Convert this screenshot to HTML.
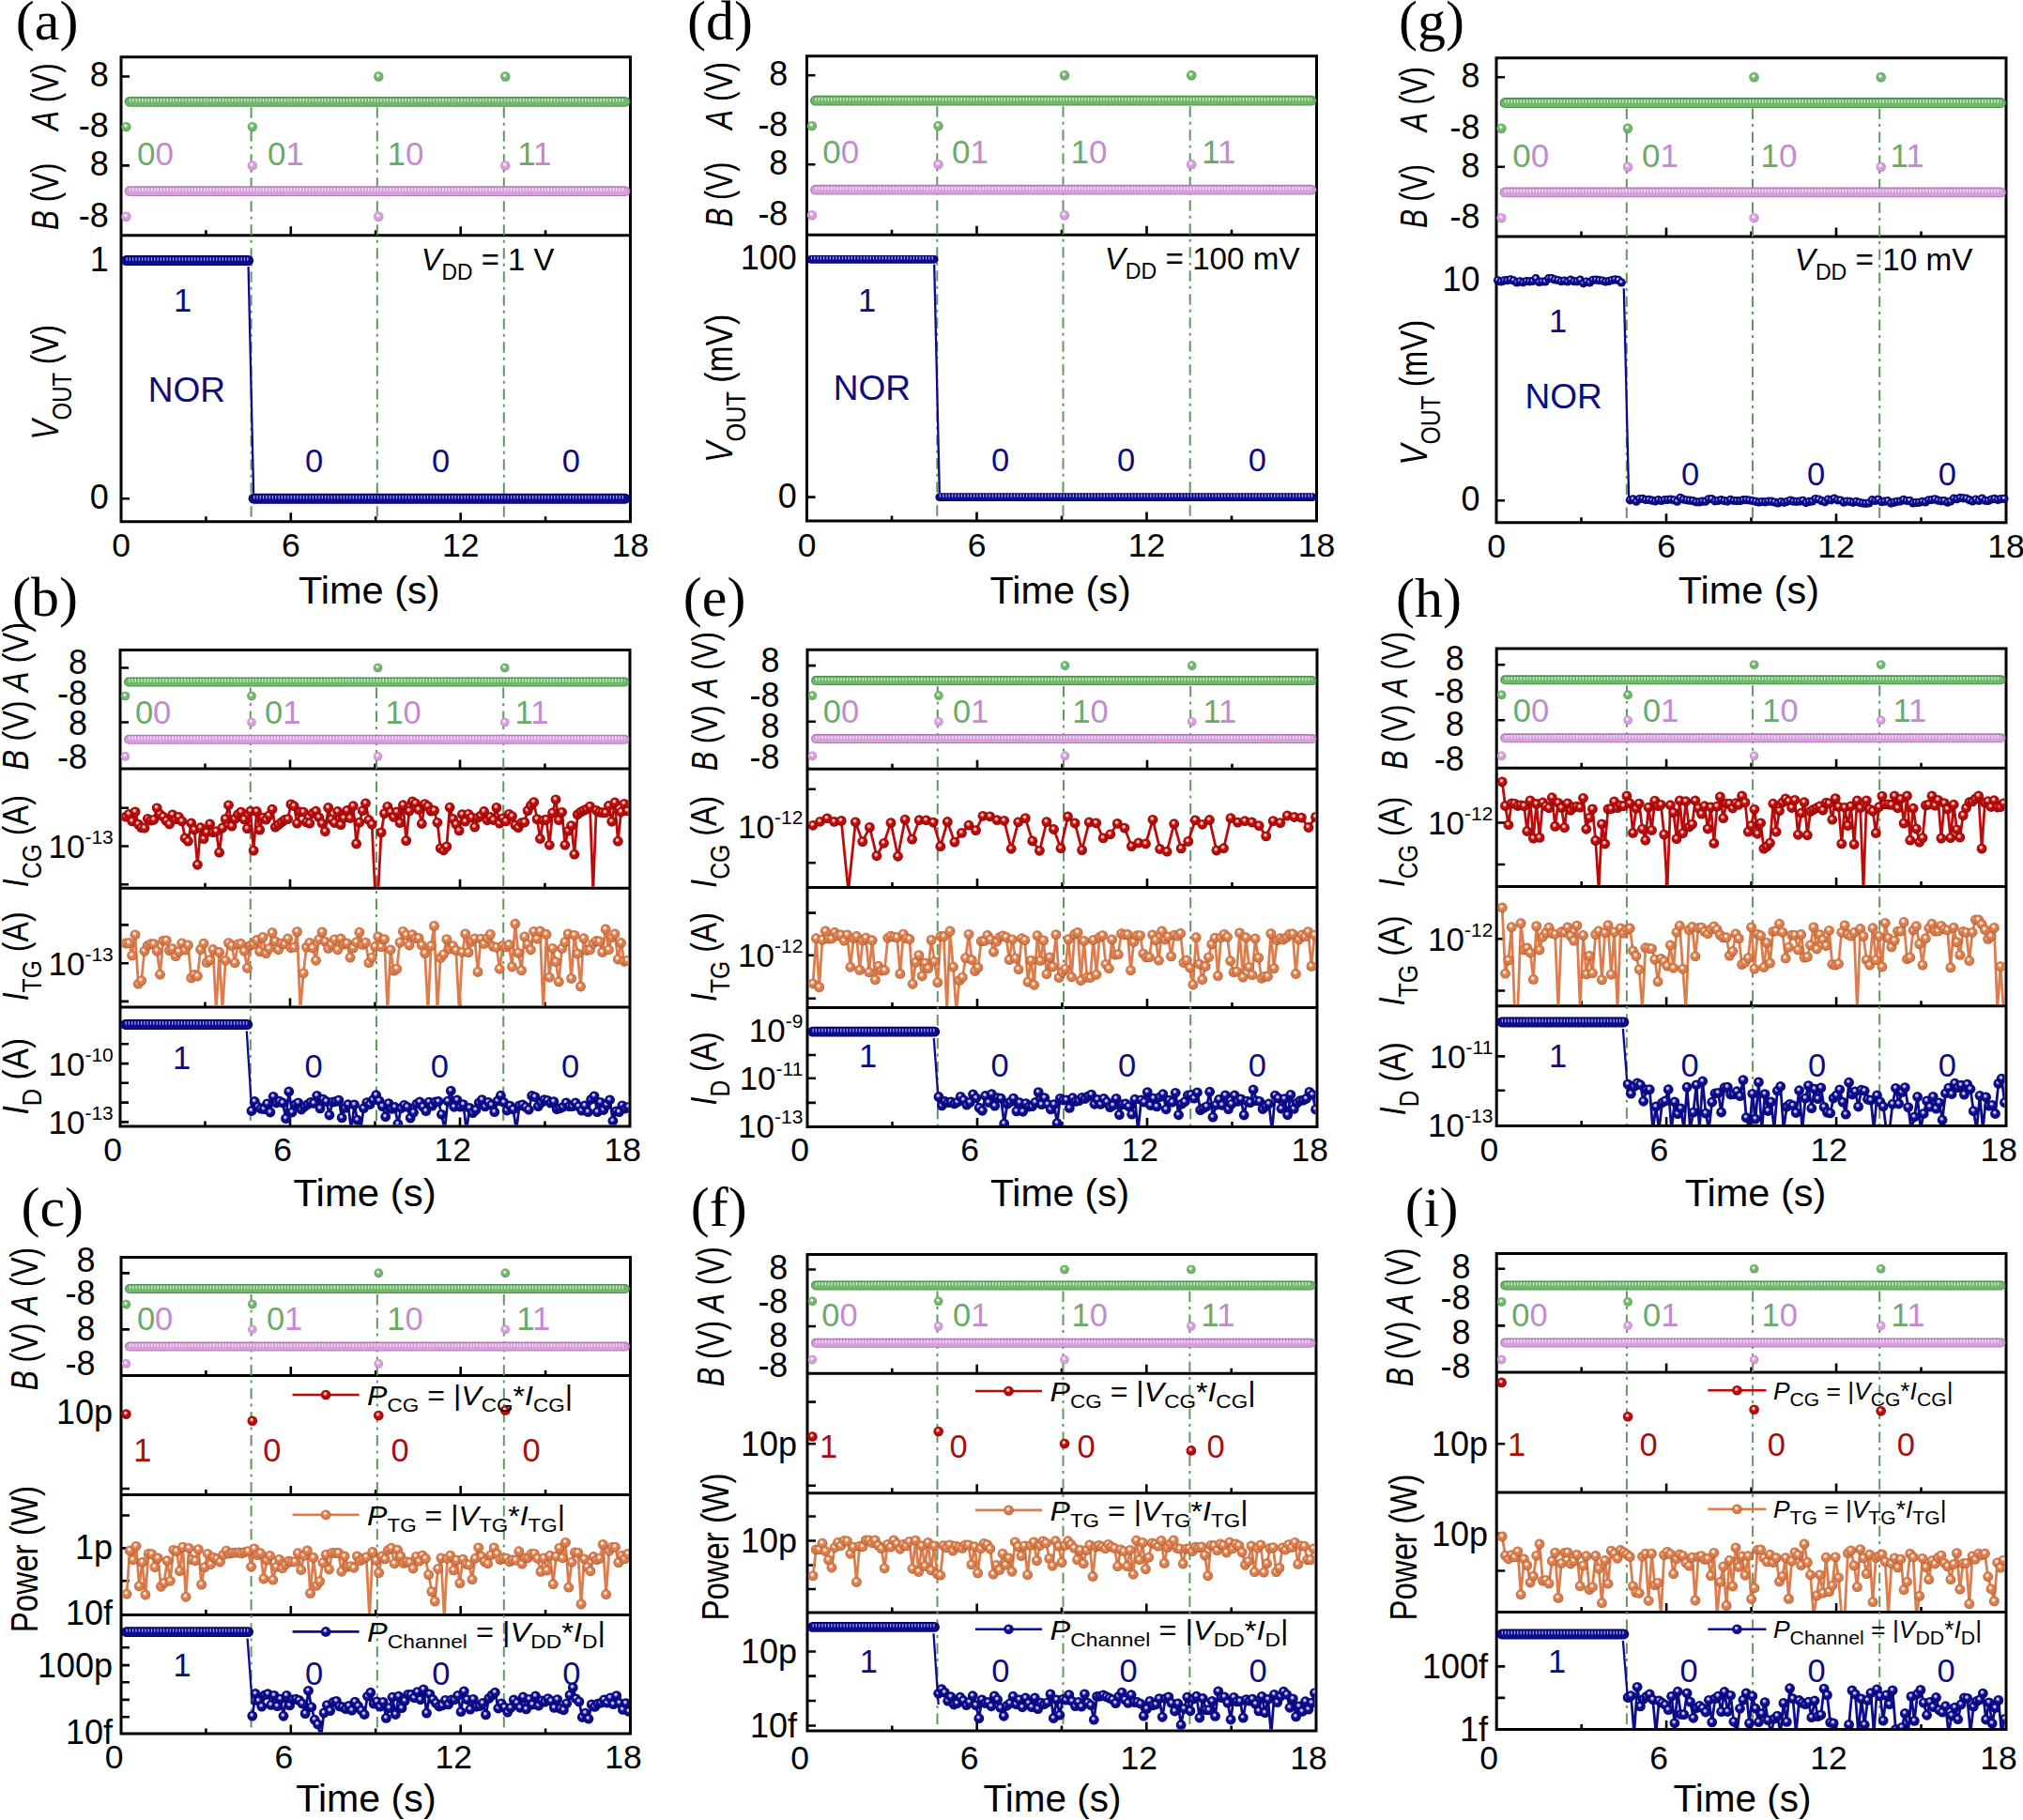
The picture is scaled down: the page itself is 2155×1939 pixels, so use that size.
<!DOCTYPE html>
<html><head><meta charset="utf-8"><title>NOR logic gate figure</title><style>
html,body{margin:0;padding:0;background:#fff;}
svg{display:block;font-family:'Liberation Sans', Arial, Helvetica, sans-serif;}
</style></head><body>
<svg width="2155" height="1939" viewBox="0 0 2155 1939">
<defs><radialGradient id="gG" cx="0.5" cy="0.5" r="0.5" fx="0.4" fy="0.34"><stop offset="0" stop-color="#e6ffe0"/><stop offset="0.18" stop-color="#e6ffe0"/><stop offset="0.45" stop-color="#72b86c"/><stop offset="0.8" stop-color="#72b86c"/><stop offset="1" stop-color="#4f9050"/></radialGradient><radialGradient id="gP" cx="0.5" cy="0.5" r="0.5" fx="0.4" fy="0.34"><stop offset="0" stop-color="#fff0ff"/><stop offset="0.18" stop-color="#fff0ff"/><stop offset="0.45" stop-color="#d79fdd"/><stop offset="0.8" stop-color="#d79fdd"/><stop offset="1" stop-color="#b07cb8"/></radialGradient><radialGradient id="gN" cx="0.5" cy="0.5" r="0.5" fx="0.4" fy="0.34"><stop offset="0" stop-color="#c8c8ff"/><stop offset="0.18" stop-color="#c8c8ff"/><stop offset="0.45" stop-color="#0c0c8c"/><stop offset="0.8" stop-color="#0c0c8c"/><stop offset="1" stop-color="#000060"/></radialGradient><radialGradient id="gR" cx="0.5" cy="0.5" r="0.5" fx="0.4" fy="0.34"><stop offset="0" stop-color="#ffd0c0"/><stop offset="0.18" stop-color="#ffd0c0"/><stop offset="0.45" stop-color="#bd0a0a"/><stop offset="0.8" stop-color="#bd0a0a"/><stop offset="1" stop-color="#6a0000"/></radialGradient><radialGradient id="gO" cx="0.5" cy="0.5" r="0.5" fx="0.4" fy="0.34"><stop offset="0" stop-color="#fff0e0"/><stop offset="0.18" stop-color="#fff0e0"/><stop offset="0.45" stop-color="#dd7d4c"/><stop offset="0.8" stop-color="#dd7d4c"/><stop offset="1" stop-color="#a0522a"/></radialGradient><marker id="mN" markerUnits="userSpaceOnUse" markerWidth="14" markerHeight="14" refX="7" refY="7" overflow="visible"><circle cx="7" cy="7" r="5.4" fill="url(#gN)"/></marker><marker id="mR" markerUnits="userSpaceOnUse" markerWidth="14" markerHeight="14" refX="7" refY="7" overflow="visible"><circle cx="7" cy="7" r="5.4" fill="url(#gR)"/></marker><marker id="mO" markerUnits="userSpaceOnUse" markerWidth="14" markerHeight="14" refX="7" refY="7" overflow="visible"><circle cx="7" cy="7" r="5.4" fill="url(#gO)"/></marker><marker id="mNs" markerUnits="userSpaceOnUse" markerWidth="14" markerHeight="14" refX="7" refY="7" overflow="visible"><circle cx="7" cy="7" r="4.6" fill="url(#gN)"/></marker><clipPath id="c1"><rect x="129.5" y="820.5" width="540" height="124.2"/></clipPath><clipPath id="c2"><rect x="129.5" y="947.7" width="540" height="123.9"/></clipPath><clipPath id="c3"><rect x="129.5" y="1074.6" width="540" height="123.9"/></clipPath><clipPath id="c4"><rect x="861.5" y="820.7" width="540" height="123.3"/></clipPath><clipPath id="c5"><rect x="861.5" y="947" width="540" height="125.1"/></clipPath><clipPath id="c6"><rect x="861.5" y="1075.1" width="540" height="124"/></clipPath><clipPath id="c7"><rect x="1595.7" y="819.8" width="539.8" height="123.2"/></clipPath><clipPath id="c8"><rect x="1595.7" y="946" width="539.8" height="124.3"/></clipPath><clipPath id="c9"><rect x="1595.7" y="1073.3" width="539.8" height="124.7"/></clipPath><clipPath id="c10"><rect x="130.5" y="1594" width="539.5" height="125"/></clipPath><clipPath id="c11"><rect x="130.5" y="1722" width="539.5" height="123.5"/></clipPath><clipPath id="c12"><rect x="861.5" y="1592.2" width="539" height="124.4"/></clipPath><clipPath id="c13"><rect x="861.5" y="1719.6" width="539" height="122.9"/></clipPath><clipPath id="c14"><rect x="1595.7" y="1591.5" width="539.8" height="124.5"/></clipPath><clipPath id="c15"><rect x="1595.7" y="1719" width="539.8" height="122"/></clipPath></defs>
<rect width="2155" height="1939" fill="#fff"/>
<path d="M129 60.8H671.5V555.8H129ZM129 250.8H671.5" fill="none" stroke="#000" stroke-width="3" stroke-linecap="square"/>
<path d="M219.4 250.8v-5.5M309.8 250.8v-9.5M400.2 250.8v-5.5M490.7 250.8v-9.5M581.1 250.8v-5.5M219.4 555.8v-5.5M309.8 555.8v-9.5M400.2 555.8v-5.5M490.7 555.8v-9.5M581.1 555.8v-5.5" stroke="#000" stroke-width="2.6"/>
<path d="M129 81.5h9M129 135.1h9M129 176.4h9M129 230.8h9M129 277.6h9M129 531.2h9" stroke="#000" stroke-width="2.6"/>
<path d="M267.6 114.3V554.3M401.8 114.3V554.3M536.8 114.3V554.3" stroke="#62985f" stroke-width="2" stroke-dasharray="11.5 5 3 5.5"/>
<path d="M138 108.3H666" stroke="#4f9050" stroke-width="10.8" stroke-linecap="round"/>
<path d="M138 108.6H666" stroke="#72b86c" stroke-width="8.200000000000001" stroke-linecap="round"/>
<path d="M138 106.7H666" stroke="#d2f7cb" stroke-width="3.6" stroke-dasharray="1.2 2.1"/>
<path d="M138 203.6H666" stroke="#b07cb8" stroke-width="10.8" stroke-linecap="round"/>
<path d="M138 203.9H666" stroke="#d79fdd" stroke-width="8.200000000000001" stroke-linecap="round"/>
<path d="M138 202H666" stroke="#fbe6fc" stroke-width="3.6" stroke-dasharray="1.2 2.1"/>
<circle cx="134.4" cy="135.1" r="5.2" fill="url(#gG)"/>
<circle cx="134.4" cy="230.8" r="5.2" fill="url(#gP)"/>
<circle cx="268.8" cy="135.1" r="5.2" fill="url(#gG)"/>
<circle cx="268.8" cy="176.4" r="5.2" fill="url(#gP)"/>
<circle cx="403.3" cy="81.5" r="5.2" fill="url(#gG)"/>
<circle cx="403.3" cy="230.8" r="5.2" fill="url(#gP)"/>
<circle cx="538.3" cy="81.5" r="5.2" fill="url(#gG)"/>
<circle cx="538.3" cy="176.4" r="5.2" fill="url(#gP)"/>
<text x="115.7" y="92.4" font-size="36" text-anchor="end">8</text>
<text x="115.7" y="146" font-size="36" text-anchor="end">-8</text>
<text x="115.7" y="187.3" font-size="36" text-anchor="end">8</text>
<text x="115.7" y="241.7" font-size="36" text-anchor="end">-8</text>
<text x="115.7" y="288.5" font-size="36" text-anchor="end">1</text>
<text x="115.7" y="542.1" font-size="36" text-anchor="end">0</text>
<text x="146.1" y="175.6" font-size="35"><tspan fill="#6aaa66">0</tspan><tspan fill="#c48ad0">0</tspan></text>
<text x="285" y="175.6" font-size="35"><tspan fill="#6aaa66">0</tspan><tspan fill="#c48ad0">1</tspan></text>
<text x="412.5" y="175.6" font-size="35"><tspan fill="#6aaa66">1</tspan><tspan fill="#c48ad0">0</tspan></text>
<text x="551.2" y="175.6" font-size="35"><tspan fill="#6aaa66">1</tspan><tspan fill="#c48ad0">1</tspan></text>
<path d="M134.5 277.6H264.6" stroke="#000060" stroke-width="11.0" stroke-linecap="round"/>
<path d="M134.5 277.9H264.6" stroke="#0c0c8c" stroke-width="8.4" stroke-linecap="round"/>
<path d="M134.5 276H264.6" stroke="#a8a8ff" stroke-width="3.6" stroke-dasharray="1.2 2.1"/>
<path d="M264.6 284.1L270.1 525.7" stroke="#0c0c8c" stroke-width="2.3" fill="none"/>
<path d="M270.1 531.2H666" stroke="#000060" stroke-width="11.0" stroke-linecap="round"/>
<path d="M270.1 531.5H666" stroke="#0c0c8c" stroke-width="8.4" stroke-linecap="round"/>
<path d="M270.1 529.6H666" stroke="#a8a8ff" stroke-width="3.6" stroke-dasharray="1.2 2.1"/>
<text x="129" y="593.3" font-size="35.5" text-anchor="middle">0</text>
<text x="309.8" y="593.3" font-size="35.5" text-anchor="middle">6</text>
<text x="490.7" y="593.3" font-size="35.5" text-anchor="middle">12</text>
<text x="671.5" y="593.3" font-size="35.5" text-anchor="middle">18</text>
<text x="318" y="643.1" font-size="40.5" textLength="150.6" lengthAdjust="spacingAndGlyphs">Time (s)</text>
<text x="16.8" y="41.5" font-size="60" font-family="'Liberation Serif', 'Times New Roman', Times, serif">(a)</text>
<text x="62.1" y="138.9" font-size="40" transform="rotate(-90 62.1 138.9)" textLength="71.6" lengthAdjust="spacingAndGlyphs"><tspan font-style="italic">A</tspan> (V)</text>
<text x="62.1" y="245" font-size="40" transform="rotate(-90 62.1 245)" textLength="71.5" lengthAdjust="spacingAndGlyphs"><tspan font-style="italic">B</tspan> (V)</text>
<text x="62.1" y="468.6" font-size="40" transform="rotate(-90 62.1 468.6)" textLength="122.8" lengthAdjust="spacingAndGlyphs"><tspan font-style="italic">V</tspan><tspan font-size="30" dy="14">OUT</tspan><tspan dy="-14"> (V)</tspan></text>
<text x="448.7" y="288.4" font-size="33" textLength="141.6" lengthAdjust="spacingAndGlyphs"><tspan font-style="italic">V</tspan><tspan font-size="23" dy="10">DD</tspan><tspan dy="-10"> = 1 V</tspan></text>
<text x="185" y="332.4" font-size="34.5" fill="#0c0c80">1</text>
<text x="157.8" y="427.5" font-size="37" fill="#0c0c80">NOR</text>
<text x="325" y="503.4" font-size="34.5" fill="#0c0c80">0</text>
<text x="459.9" y="503.4" font-size="34.5" fill="#0c0c80">0</text>
<text x="598.8" y="503.4" font-size="34.5" fill="#0c0c80">0</text>
<path d="M859.5 59.7H1402.5V555H859.5ZM859.5 250.3H1402.5" fill="none" stroke="#000" stroke-width="3" stroke-linecap="square"/>
<path d="M950 250.3v-5.5M1040.5 250.3v-9.5M1131 250.3v-5.5M1221.5 250.3v-9.5M1312 250.3v-5.5M950 555v-5.5M1040.5 555v-9.5M1131 555v-5.5M1221.5 555v-9.5M1312 555v-5.5" stroke="#000" stroke-width="2.6"/>
<path d="M859.5 80.3h9M859.5 134.1h9M859.5 175.2h9M859.5 229.2h9M859.5 276.4h9M859.5 529.6h9" stroke="#000" stroke-width="2.6"/>
<path d="M998.3 113.2V553.5M1132.5 113.2V553.5M1267.7 113.2V553.5" stroke="#62985f" stroke-width="2" stroke-dasharray="11.5 5 3 5.5"/>
<path d="M868.5 107.2H1397" stroke="#4f9050" stroke-width="10.8" stroke-linecap="round"/>
<path d="M868.5 107.5H1397" stroke="#72b86c" stroke-width="8.200000000000001" stroke-linecap="round"/>
<path d="M868.5 105.6H1397" stroke="#d2f7cb" stroke-width="3.6" stroke-dasharray="1.2 2.1"/>
<path d="M868.5 202.2H1397" stroke="#b07cb8" stroke-width="10.8" stroke-linecap="round"/>
<path d="M868.5 202.5H1397" stroke="#d79fdd" stroke-width="8.200000000000001" stroke-linecap="round"/>
<path d="M868.5 200.6H1397" stroke="#fbe6fc" stroke-width="3.6" stroke-dasharray="1.2 2.1"/>
<circle cx="864.9" cy="134.1" r="5.2" fill="url(#gG)"/>
<circle cx="864.9" cy="229.2" r="5.2" fill="url(#gP)"/>
<circle cx="999.5" cy="134.1" r="5.2" fill="url(#gG)"/>
<circle cx="999.5" cy="175.2" r="5.2" fill="url(#gP)"/>
<circle cx="1134" cy="80.3" r="5.2" fill="url(#gG)"/>
<circle cx="1134" cy="229.2" r="5.2" fill="url(#gP)"/>
<circle cx="1269.2" cy="80.3" r="5.2" fill="url(#gG)"/>
<circle cx="1269.2" cy="175.2" r="5.2" fill="url(#gP)"/>
<text x="839.4" y="91.2" font-size="36" text-anchor="end">8</text>
<text x="839.4" y="145" font-size="36" text-anchor="end">-8</text>
<text x="839.4" y="186.1" font-size="36" text-anchor="end">8</text>
<text x="839.4" y="240.1" font-size="36" text-anchor="end">-8</text>
<text x="848.8" y="287.3" font-size="36" text-anchor="end">100</text>
<text x="848.8" y="540.5" font-size="36" text-anchor="end">0</text>
<text x="876.3" y="174.1" font-size="35"><tspan fill="#6aaa66">0</tspan><tspan fill="#c48ad0">0</tspan></text>
<text x="1014.1" y="174.1" font-size="35"><tspan fill="#6aaa66">0</tspan><tspan fill="#c48ad0">1</tspan></text>
<text x="1140.6" y="174.1" font-size="35"><tspan fill="#6aaa66">1</tspan><tspan fill="#c48ad0">0</tspan></text>
<text x="1280.2" y="174.1" font-size="35"><tspan fill="#6aaa66">1</tspan><tspan fill="#c48ad0">1</tspan></text>
<path d="M863.9 276.4H995.2" stroke="#000060" stroke-width="8.8" stroke-linecap="round"/>
<path d="M863.9 276.7H995.2" stroke="#0c0c8c" stroke-width="6.200000000000001" stroke-linecap="round"/>
<path d="M863.9 274.8H995.2" stroke="#a8a8ff" stroke-width="3.6" stroke-dasharray="1.2 2.1"/>
<path d="M995.2 281.8L1000.8 525.2" stroke="#0c0c8c" stroke-width="2.3" fill="none"/>
<path d="M1000.8 529.6H1398.1" stroke="#000060" stroke-width="8.8" stroke-linecap="round"/>
<path d="M1000.8 529.9H1398.1" stroke="#0c0c8c" stroke-width="6.200000000000001" stroke-linecap="round"/>
<path d="M1000.8 528H1398.1" stroke="#a8a8ff" stroke-width="3.6" stroke-dasharray="1.2 2.1"/>
<text x="859.5" y="593" font-size="35.5" text-anchor="middle">0</text>
<text x="1040.5" y="593" font-size="35.5" text-anchor="middle">6</text>
<text x="1221.5" y="593" font-size="35.5" text-anchor="middle">12</text>
<text x="1402.5" y="593" font-size="35.5" text-anchor="middle">18</text>
<text x="1054.6" y="642.5" font-size="40.5" textLength="150.2" lengthAdjust="spacingAndGlyphs">Time (s)</text>
<text x="732" y="41.5" font-size="60" font-family="'Liberation Serif', 'Times New Roman', Times, serif">(d)</text>
<text x="779.7" y="137.9" font-size="40" transform="rotate(-90 779.7 137.9)" textLength="71.9" lengthAdjust="spacingAndGlyphs"><tspan font-style="italic">A</tspan> (V)</text>
<text x="779.7" y="241.8" font-size="40" transform="rotate(-90 779.7 241.8)" textLength="69.3" lengthAdjust="spacingAndGlyphs"><tspan font-style="italic">B</tspan> (V)</text>
<text x="779.7" y="493" font-size="40" transform="rotate(-90 779.7 493)" textLength="158.3" lengthAdjust="spacingAndGlyphs"><tspan font-style="italic">V</tspan><tspan font-size="30" dy="14">OUT</tspan><tspan dy="-14"> (mV)</tspan></text>
<text x="1176.7" y="286.5" font-size="33" textLength="207.9" lengthAdjust="spacingAndGlyphs"><tspan font-style="italic">V</tspan><tspan font-size="23" dy="10">DD</tspan><tspan dy="-10"> = 100 mV</tspan></text>
<text x="913.9" y="331.9" font-size="34.5" fill="#0c0c80">1</text>
<text x="887.7" y="426.2" font-size="37" fill="#0c0c80">NOR</text>
<text x="1055.9" y="502.4" font-size="34.5" fill="#0c0c80">0</text>
<text x="1190.1" y="502.4" font-size="34.5" fill="#0c0c80">0</text>
<text x="1329.8" y="502.4" font-size="34.5" fill="#0c0c80">0</text>
<path d="M1594 61.7H2137V556.8H1594ZM1594 252.1H2137" fill="none" stroke="#000" stroke-width="3" stroke-linecap="square"/>
<path d="M1684.5 252.1v-5.5M1775 252.1v-9.5M1865.5 252.1v-5.5M1956 252.1v-9.5M2046.5 252.1v-5.5M1684.5 556.8v-5.5M1775 556.8v-9.5M1865.5 556.8v-5.5M1956 556.8v-9.5M2046.5 556.8v-5.5" stroke="#000" stroke-width="2.6"/>
<path d="M1594 82.3h9M1594 136.7h9M1594 177.7h9M1594 232.1h9M1594 299.2h9M1594 533.2h9" stroke="#000" stroke-width="2.6"/>
<path d="M1732.8 115.5V555.3M1867 115.5V555.3M2002.2 115.5V555.3" stroke="#62985f" stroke-width="2" stroke-dasharray="11.5 5 3 5.5"/>
<path d="M1603 109.5H2131.5" stroke="#4f9050" stroke-width="10.8" stroke-linecap="round"/>
<path d="M1603 109.8H2131.5" stroke="#72b86c" stroke-width="8.200000000000001" stroke-linecap="round"/>
<path d="M1603 107.9H2131.5" stroke="#d2f7cb" stroke-width="3.6" stroke-dasharray="1.2 2.1"/>
<path d="M1603 204.9H2131.5" stroke="#b07cb8" stroke-width="10.8" stroke-linecap="round"/>
<path d="M1603 205.2H2131.5" stroke="#d79fdd" stroke-width="8.200000000000001" stroke-linecap="round"/>
<path d="M1603 203.3H2131.5" stroke="#fbe6fc" stroke-width="3.6" stroke-dasharray="1.2 2.1"/>
<circle cx="1599.4" cy="136.7" r="5.2" fill="url(#gG)"/>
<circle cx="1599.4" cy="232.1" r="5.2" fill="url(#gP)"/>
<circle cx="1734" cy="136.7" r="5.2" fill="url(#gG)"/>
<circle cx="1734" cy="177.7" r="5.2" fill="url(#gP)"/>
<circle cx="1868.5" cy="82.3" r="5.2" fill="url(#gG)"/>
<circle cx="1868.5" cy="232.1" r="5.2" fill="url(#gP)"/>
<circle cx="2003.7" cy="82.3" r="5.2" fill="url(#gG)"/>
<circle cx="2003.7" cy="177.7" r="5.2" fill="url(#gP)"/>
<text x="1576.5" y="93.2" font-size="36" text-anchor="end">8</text>
<text x="1576.5" y="147.6" font-size="36" text-anchor="end">-8</text>
<text x="1576.5" y="188.6" font-size="36" text-anchor="end">8</text>
<text x="1576.5" y="243" font-size="36" text-anchor="end">-8</text>
<text x="1576.5" y="310.1" font-size="36" text-anchor="end">10</text>
<text x="1576.5" y="544.1" font-size="36" text-anchor="end">0</text>
<text x="1611.3" y="177.7" font-size="35"><tspan fill="#6aaa66">0</tspan><tspan fill="#c48ad0">0</tspan></text>
<text x="1749.1" y="177.7" font-size="35"><tspan fill="#6aaa66">0</tspan><tspan fill="#c48ad0">1</tspan></text>
<text x="1875.6" y="177.7" font-size="35"><tspan fill="#6aaa66">1</tspan><tspan fill="#c48ad0">0</tspan></text>
<text x="2013.4" y="177.7" font-size="35"><tspan fill="#6aaa66">1</tspan><tspan fill="#c48ad0">1</tspan></text>
<path d="M1595.5 298.8 1598.9 300 1602.3 298.9 1605.6 298.7 1609 297.8 1612.4 298.9 1615.8 300.9 1619.2 299.8 1622.5 300.8 1625.9 299.6 1629.3 299.8 1632.7 299.5 1636.1 296.7 1639.4 300.5 1642.8 300 1646.2 299.9 1649.6 296.7 1652.9 296.6 1656.3 297.9 1659.7 298.5 1663.1 299.7 1666.5 299.1 1669.8 300 1673.2 298.2 1676.6 299.7 1680 299.8 1683.4 298.2 1686.7 301.8 1690.1 300 1693.5 301 1696.9 298.3 1700.2 298.1 1703.6 298.7 1707 299 1710.4 300.1 1713.8 299.6 1717.1 298.5 1720.5 297.8 1723.9 298.4 1727.3 301" fill="none" stroke="#0c0c8c" stroke-width="2" stroke-linejoin="round" marker-start="url(#mNs)" marker-mid="url(#mNs)" marker-end="url(#mNs)"/>
<path d="M1729.8 307.2L1735.2 533.2" stroke="#0c0c8c" stroke-width="2.3" fill="none"/>
<path d="M1736.4 532.8 1739.7 531.9 1743.1 534.2 1746.4 531.5 1749.8 531.3 1753.1 532.5 1756.5 532.3 1759.8 533.2 1763.2 533.9 1766.5 532.6 1769.9 533.5 1773.2 532.5 1776.6 532.3 1779.9 532.1 1783.3 532.8 1786.6 534.2 1790 530.3 1793.3 532.1 1796.7 532.8 1800 533.2 1803.4 533.6 1806.7 534.8 1810.1 534.9 1813.4 534.2 1816.8 534.2 1820.1 531.8 1823.4 531.6 1826.8 533.8 1830.1 533.4 1833.5 532.6 1836.8 533.6 1840.2 534.1 1843.5 532.4 1846.9 533.5 1850.2 533.6 1853.6 533.6 1856.9 532.7 1860.3 532.6 1863.6 533 1867 533.6 1870.3 534.3 1873.7 535.1 1877 534.6 1880.4 534.8 1883.7 534.2 1887.1 534.2 1890.4 535 1893.8 535.9 1897.1 534.6 1900.5 535.3 1903.8 534.3 1907.2 533.1 1910.5 534.2 1913.9 534.3 1917.2 534.1 1920.6 533.3 1923.9 535.6 1927.3 534.4 1930.6 534 1933.9 531.6 1937.3 532 1940.6 533.7 1944 534.8 1947.3 532 1950.7 532.8 1954 531.1 1957.4 532.8 1960.7 533.1 1964.1 535.2 1967.4 534 1970.8 534.4 1974.1 535.3 1977.5 534.4 1980.8 535.3 1984.2 536.1 1987.5 536.3 1990.9 535.9 1994.2 532.7 1997.6 533.4 2000.9 532.1 2004.3 534.7 2007.6 534.2 2011 533.7 2014.3 536.1 2017.7 535.2 2021 534.3 2024.4 534 2027.7 532.4 2031.1 533.5 2034.4 533.4 2037.8 536 2041.1 535.4 2044.4 535.3 2047.8 534.4 2051.1 534.9 2054.5 532.8 2057.8 532.5 2061.2 531.8 2064.5 533.2 2067.9 533.8 2071.2 533.6 2074.6 535.2 2077.9 534 2081.3 531.1 2084.6 531.7 2088 530.4 2091.3 530.8 2094.7 531.1 2098 532.7 2101.4 533.9 2104.7 532 2108.1 533.5 2111.4 531.1 2114.8 533.3 2118.1 533.4 2121.5 532 2124.8 531.4 2128.2 532.4 2131.5 531.6 2134.9 531.3" fill="none" stroke="#0c0c8c" stroke-width="2" stroke-linejoin="round" marker-start="url(#mNs)" marker-mid="url(#mNs)" marker-end="url(#mNs)"/>
<text x="1594" y="594" font-size="35.5" text-anchor="middle">0</text>
<text x="1775" y="594" font-size="35.5" text-anchor="middle">6</text>
<text x="1956" y="594" font-size="35.5" text-anchor="middle">12</text>
<text x="2137" y="594" font-size="35.5" text-anchor="middle">18</text>
<text x="1787.8" y="643" font-size="40.5" textLength="150.2" lengthAdjust="spacingAndGlyphs">Time (s)</text>
<text x="1490" y="42" font-size="60" font-family="'Liberation Serif', 'Times New Roman', Times, serif">(g)</text>
<text x="1519.6" y="140.3" font-size="40" transform="rotate(-90 1519.6 140.3)" textLength="69.3" lengthAdjust="spacingAndGlyphs"><tspan font-style="italic">A</tspan> (V)</text>
<text x="1519.6" y="243" font-size="40" transform="rotate(-90 1519.6 243)" textLength="68" lengthAdjust="spacingAndGlyphs"><tspan font-style="italic">B</tspan> (V)</text>
<text x="1519.6" y="495.5" font-size="40" transform="rotate(-90 1519.6 495.5)" textLength="154.7" lengthAdjust="spacingAndGlyphs"><tspan font-style="italic">V</tspan><tspan font-size="30" dy="14">OUT</tspan><tspan dy="-14"> (mV)</tspan></text>
<text x="1911.7" y="288.4" font-size="33" textLength="189.7" lengthAdjust="spacingAndGlyphs"><tspan font-style="italic">V</tspan><tspan font-size="23" dy="10">DD</tspan><tspan dy="-10"> = 10 mV</tspan></text>
<text x="1650" y="353.6" font-size="34.5" fill="#0c0c80">1</text>
<text x="1624.5" y="435.3" font-size="37" fill="#0c0c80">NOR</text>
<text x="1790.9" y="516.9" font-size="34.5" fill="#0c0c80">0</text>
<text x="1925.1" y="516.9" font-size="34.5" fill="#0c0c80">0</text>
<text x="2064.8" y="516.9" font-size="34.5" fill="#0c0c80">0</text>
<path d="M128 692.5H671V1200H128ZM128 819H671M128 946.2H671M128 1073.1H671" fill="none" stroke="#000" stroke-width="3" stroke-linecap="square"/>
<path d="M218.5 819v-5.5M309 819v-9.5M399.5 819v-5.5M490 819v-9.5M580.5 819v-5.5M218.5 946.2v-5.5M309 946.2v-9.5M399.5 946.2v-5.5M490 946.2v-9.5M580.5 946.2v-5.5M218.5 1073.1v-5.5M309 1073.1v-9.5M399.5 1073.1v-5.5M490 1073.1v-9.5M580.5 1073.1v-5.5M218.5 1200v-5.5M309 1200v-9.5M399.5 1200v-5.5M490 1200v-9.5M580.5 1200v-5.5" stroke="#000" stroke-width="2.6"/>
<path d="M266.8 732.5V1198.5M401 732.5V1198.5M536.2 732.5V1198.5" stroke="#62985f" stroke-width="2" stroke-dasharray="11.5 5 3 5.5"/>
<path d="M128 711.5h9M128 769.5h9M128 860.7h9M128 901.5h9M128 942.3h9M128 985.4h9M128 1026.2h9M128 1066.9h9M128 1112.3h9M128 1133.1h9M128 1153.8h9M128 1174.6h9M128 1195.4h9" stroke="#000" stroke-width="2.6"/>
<path d="M137.1 726.5H665.5" stroke="#4f9050" stroke-width="10.0" stroke-linecap="round"/>
<path d="M137.1 726.8H665.5" stroke="#72b86c" stroke-width="7.4" stroke-linecap="round"/>
<path d="M137.1 724.9H665.5" stroke="#d2f7cb" stroke-width="3.6" stroke-dasharray="1.2 2.1"/>
<path d="M137.1 787.7H665.5" stroke="#b07cb8" stroke-width="10.0" stroke-linecap="round"/>
<path d="M137.1 788H665.5" stroke="#d79fdd" stroke-width="7.4" stroke-linecap="round"/>
<path d="M137.1 786.1H665.5" stroke="#fbe6fc" stroke-width="3.6" stroke-dasharray="1.2 2.1"/>
<circle cx="133.4" cy="741.5" r="4.8" fill="url(#gG)"/>
<circle cx="133.4" cy="805.9" r="4.8" fill="url(#gP)"/>
<circle cx="268" cy="741.5" r="4.8" fill="url(#gG)"/>
<circle cx="268" cy="769.5" r="4.8" fill="url(#gP)"/>
<circle cx="402.5" cy="711.5" r="4.8" fill="url(#gG)"/>
<circle cx="402.5" cy="805.9" r="4.8" fill="url(#gP)"/>
<circle cx="537.7" cy="711.5" r="4.8" fill="url(#gG)"/>
<circle cx="537.7" cy="769.5" r="4.8" fill="url(#gP)"/>
<text x="93" y="717.5" font-size="36" text-anchor="end">8</text>
<text x="93" y="751.4" font-size="36" text-anchor="end">-8</text>
<text x="93" y="782.9" font-size="36" text-anchor="end">8</text>
<text x="93" y="819.4" font-size="36" text-anchor="end">-8</text>
<text x="143.9" y="771" font-size="34.5"><tspan fill="#6aaa66">0</tspan><tspan fill="#c48ad0">0</tspan></text>
<text x="282" y="771" font-size="34.5"><tspan fill="#6aaa66">0</tspan><tspan fill="#c48ad0">1</tspan></text>
<text x="410.4" y="771" font-size="34.5"><tspan fill="#6aaa66">1</tspan><tspan fill="#c48ad0">0</tspan></text>
<text x="548.5" y="771" font-size="34.5"><tspan fill="#6aaa66">1</tspan><tspan fill="#c48ad0">1</tspan></text>
<text x="120.8" y="914" font-size="35" text-anchor="end">10<tspan font-size="21" dy="-15">-13</tspan></text>
<text x="120.8" y="1038.7" font-size="35" text-anchor="end">10<tspan font-size="21" dy="-15">-13</tspan></text>
<text x="120.8" y="1145.6" font-size="35" text-anchor="end">10<tspan font-size="21" dy="-15">-10</tspan></text>
<text x="120.8" y="1207.9" font-size="35" text-anchor="end">10<tspan font-size="21" dy="-15">-13</tspan></text>
<path d="M134 870.2 137.4 867.4 140.7 874.9 144 864.9 147.3 878.1 150.6 881.7 153.9 882.2 157.3 872.3 160.6 874.1 163.9 873.3 167.2 860.8 170.5 867.5 173.9 870.1 177.2 874.4 180.5 878 183.8 867.9 187.1 872.9 190.4 870.3 193.8 874.9 197.1 893 200.4 896.2 203.7 877 207 883.9 210.4 921.3 213.7 881.7 217 893.6 220.3 886.7 223.6 877.9 226.9 886.8 230.3 885.6 233.6 908.2 236.9 882 240.2 872.4 243.5 857.8 246.9 880.1 250.2 872.4 253.5 867.7 256.8 865.1 260.1 872.9 263.4 882.6 266.8 864.2 270.1 906.1 273.4 864.5 276.7 884.1 280 871.1 283.4 873.2 286.7 868.8 290 862.2 293.3 881.1 296.6 878.6 300 876 303.3 873.4 306.6 872.6 309.9 856.9 313.2 858.7 316.5 877.2 319.9 865 323.2 865.1 326.5 875.9 329.8 877.1 333.1 866.5 336.5 864.2 339.8 870.8 343.1 877.2 346.4 885.8 349.7 860.5 353 872.9 356.4 876.5 359.7 864.5 363 878.6 366.3 871.5 369.6 863.5 373 871.5 376.3 858.7 379.6 899 382.9 876.1 386.2 863.7 389.5 855.8 392.9 873.5 396.2 878.1 399.5 950.2 402.8 950.2 406.1 886.9 409.5 866.6 412.8 859.3 416.1 865 419.4 870.4 422.7 865 426 876.6 429.4 857.7 432.7 895.6 436 863.9 439.3 853.9 442.6 855.8 446 862.5 449.3 877.5 452.6 856.6 455.9 859 459.2 864.1 462.5 863.4 465.9 876.3 469.2 903.8 472.5 905.8 475.8 901.9 479.1 860.2 482.5 872.4 485.8 878.1 489.1 884.9 492.4 867.6 495.7 875.2 499 867.3 502.4 870.8 505.7 881.1 509 871.1 512.3 869 515.6 864.5 519 873.8 522.3 870.4 525.6 873.5 528.9 860.4 532.2 877.2 535.6 871.8 538.9 874.9 542.2 867.3 545.5 869.6 548.8 879.1 552.1 881.7 555.5 876.7 558.8 876 562.1 863.6 565.4 858.2 568.7 854.6 572.1 872.6 575.4 893.5 578.7 873.9 582 873.2 585.3 900.3 588.6 866 592 851.8 595.3 873.7 598.6 865.3 601.9 900.3 605.2 885.2 608.6 879.6 611.9 910.2 615.2 867.8 618.5 865.1 621.8 863.4 625.1 862 628.5 859.1 631.8 950.2 635.1 863.3 638.4 865.2 641.7 865.6 645.1 865.8 648.4 858.5 651.7 875.3 655 855 658.3 896.2 661.6 865 665 856.3 668.3 863.9" fill="none" stroke="#bd0a0a" stroke-width="2.8" stroke-linejoin="round" marker-start="url(#mR)" marker-mid="url(#mR)" marker-end="url(#mR)" clip-path="url(#c1)"/>
<path d="M134 1005 137.4 1004.7 140.7 1017.9 144 995.8 147.3 1048.2 150.6 1044.8 153.9 1013.2 157.3 1007.3 160.6 1005.7 163.9 1005.6 167.2 1013.1 170.5 1038.2 173.9 1002.1 177.2 1002 180.5 1012.6 183.8 1010.7 187.1 1018.7 190.4 1013.9 193.8 1004.8 197.1 1012.1 200.4 1006.9 203.7 1041.9 207 1038.5 210.4 1040 213.7 1011.5 217 1005.2 220.3 1025.4 223.6 1022.6 226.9 1011.5 230.3 1077.1 233.6 1014.5 236.9 1077.1 240.2 1023.3 243.5 1004.6 246.9 1007.4 250.2 1025.8 253.5 1005.8 256.8 1005.5 260.1 1013.3 263.4 1031.3 266.8 1007.1 270.1 1005.8 273.4 1001.5 276.7 1013.6 280 998.4 283.4 1015.6 286.7 1010.5 290 993.6 293.3 1002.8 296.6 1011.7 300 1005.1 303.3 1005.8 306.6 1000 309.9 1009.8 313.2 1009.2 316.5 992.6 319.9 1077.1 323.2 1036.8 326.5 1009.1 329.8 1004.3 333.1 1009.9 336.5 1023.3 339.8 1000.8 343.1 992.9 346.4 1003.1 349.7 1010.4 353 1006.3 356.4 1000.8 359.7 1011.6 363 1000 366.3 1006.1 369.6 1004.9 373 1020.2 376.3 1009.9 379.6 1003.7 382.9 993.2 386.2 1006.4 389.5 1004.1 392.9 1025.7 396.2 1020.1 399.5 1008.5 402.8 997.9 406.1 1008.6 409.5 1000.6 412.8 1077.1 416.1 1011.8 419.4 1034.1 422.7 1032.1 426 1004.1 429.4 992.3 432.7 996.1 436 1007 439.3 995.7 442.6 999.5 446 999.4 449.3 1007 452.6 1015.5 455.9 1077.1 459.2 1007.7 462.5 986.4 465.9 1077.1 469.2 1020.5 472.5 1016.8 475.8 1000.6 479.1 1011 482.5 1007.7 485.8 1012.4 489.1 1077.1 492.4 1014.3 495.7 994.9 499 1014.6 502.4 1003.3 505.7 999.8 509 1035.4 512.3 1000.2 515.6 1005.4 519 999.5 522.3 995.4 525.6 1008.4 528.9 1009.2 532.2 1032.2 535.6 1007.4 538.9 1008.9 542.2 1006.5 545.5 1030 548.8 984.2 552.1 1015.1 555.5 1033.8 558.8 997.9 562.1 1005.9 565.4 1011.8 568.7 992.3 572.1 1000.2 575.4 992 578.7 1077.1 582 995.5 585.3 1041.2 588.6 1010.3 592 1024.7 595.3 1045.9 598.6 1010.5 601.9 1003.6 605.2 994.9 608.6 1042.4 611.9 996.3 615.2 1016 618.5 1051 621.8 999.7 625.1 1012.5 628.5 1011.7 631.8 1005.3 635.1 1002.5 638.4 1003 641.7 1014.5 645.1 990 648.4 1011.7 651.7 998.7 655 995 658.3 1022 661.6 1004.5 665 1024.3 668.3 1023.4" fill="none" stroke="#dd7d4c" stroke-width="2.8" stroke-linejoin="round" marker-start="url(#mO)" marker-mid="url(#mO)" marker-end="url(#mO)" clip-path="url(#c2)"/>
<path d="M133.5 1091.5H263.8" stroke="#000060" stroke-width="10.8" stroke-linecap="round"/>
<path d="M133.5 1091.8H263.8" stroke="#0c0c8c" stroke-width="8.200000000000001" stroke-linecap="round"/>
<path d="M133.5 1089.9H263.8" stroke="#a8a8ff" stroke-width="3.6" stroke-dasharray="1.2 2.1"/>
<path d="M262.8 1098.5L268 1180" stroke="#0c0c8c" stroke-width="2.3" clip-path="url(#c3)"/>
<path d="M268 1183.5 271.3 1173.5 274.6 1179.2 277.9 1181.2 281.2 1181.6 284.6 1175.8 287.9 1185 291.2 1168.3 294.5 1175 297.8 1173.2 301.2 1175 304.5 1191.6 307.8 1163 311.1 1185 314.4 1176.8 317.7 1174.8 321.1 1182 324.4 1178.9 327.7 1176.7 331 1174.4 334.3 1175.4 337.7 1167.3 341 1180.9 344.3 1171.2 347.6 1173.4 350.9 1188 354.3 1174.2 357.6 1173.5 360.9 1172.1 364.2 1190.9 367.5 1180.4 370.8 1176.7 374.2 1204 377.5 1176.9 380.8 1193.2 384.1 1204 387.4 1180.7 390.8 1174.6 394.1 1176.5 397.4 1171.7 400.7 1166.7 404 1172.8 407.3 1178.6 410.7 1189.8 414 1175.6 417.3 1181.4 420.6 1179.5 423.9 1197.4 427.3 1180.7 430.6 1177.3 433.9 1179.3 437.2 1191.1 440.5 1185.3 443.8 1176.2 447.2 1174 450.5 1179.1 453.8 1183.7 457.1 1174.1 460.4 1178.2 463.8 1174 467.1 1173.5 470.4 1187.3 473.7 1204 477 1173.1 480.3 1162.1 483.7 1179.3 487 1172 490.3 1179.1 493.6 1176.6 496.9 1204 500.3 1180.4 503.6 1185.7 506.9 1182.5 510.2 1174.8 513.5 1171.6 516.8 1178.9 520.2 1174.3 523.5 1177.3 526.8 1184.7 530.1 1172.9 533.4 1167.2 536.8 1174.5 540.1 1183 543.4 1178.1 546.7 1181.9 550 1204 553.3 1177.9 556.7 1177 560 1179.4 563.3 1182.2 566.6 1167.5 569.9 1168.6 573.3 1178.6 576.6 1174.8 579.9 1171.6 583.2 1172.4 586.5 1175.2 589.9 1173.6 593.2 1181.8 596.5 1180.8 599.8 1179.3 603.1 1174.9 606.4 1178.8 609.8 1178.7 613.1 1175 616.4 1178.8 619.7 1183.1 623 1177.9 626.4 1184.7 629.7 1171.3 633 1167.8 636.3 1184.6 639.6 1174.3 642.9 1182.5 646.3 1177.1 649.6 1171.8 652.9 1194.3 656.2 1183.9 659.5 1184.7 662.9 1177.8 666.2 1181 669.5 1179.3" fill="none" stroke="#0c0c8c" stroke-width="2.8" stroke-linejoin="round" marker-start="url(#mN)" marker-mid="url(#mN)" marker-end="url(#mN)" clip-path="url(#c3)"/>
<text x="184" y="1139.1" font-size="34.5" fill="#0c0c80">1</text>
<text x="324.4" y="1148.4" font-size="34.5" fill="#0c0c80">0</text>
<text x="458.8" y="1148.4" font-size="34.5" fill="#0c0c80">0</text>
<text x="598" y="1148.4" font-size="34.5" fill="#0c0c80">0</text>
<text x="120.2" y="1237" font-size="35.5" text-anchor="middle">0</text>
<text x="301.2" y="1237" font-size="35.5" text-anchor="middle">6</text>
<text x="482.2" y="1237" font-size="35.5" text-anchor="middle">12</text>
<text x="663.2" y="1237" font-size="35.5" text-anchor="middle">18</text>
<text x="312.6" y="1285" font-size="40.5" textLength="152" lengthAdjust="spacingAndGlyphs">Time (s)</text>
<text x="13" y="655.8" font-size="60" font-family="'Liberation Serif', 'Times New Roman', Times, serif">(b)</text>
<text x="30" y="820.5" font-size="38" transform="rotate(-90 30 820.5)" textLength="157.5" lengthAdjust="spacingAndGlyphs"><tspan font-style="italic">B</tspan> (V) <tspan font-style="italic">A</tspan> (V)</text>
<text x="30" y="945.3" font-size="39" transform="rotate(-90 30 945.3)" textLength="98.2" lengthAdjust="spacingAndGlyphs"><tspan font-style="italic">I</tspan><tspan font-size="30" dy="14">CG</tspan><tspan dy="-14"> (A)</tspan></text>
<text x="30" y="1066.3" font-size="39" transform="rotate(-90 30 1066.3)" textLength="94.9" lengthAdjust="spacingAndGlyphs"><tspan font-style="italic">I</tspan><tspan font-size="30" dy="14">TG</tspan><tspan dy="-14"> (A)</tspan></text>
<text x="30" y="1187.5" font-size="39" transform="rotate(-90 30 1187.5)" textLength="81.5" lengthAdjust="spacingAndGlyphs"><tspan font-style="italic">I</tspan><tspan font-size="30" dy="14">D</tspan><tspan dy="-14"> (A)</tspan></text>
<path d="M860 692.2H1403V1200.6H860ZM860 819.2H1403M860 945.5H1403M860 1073.6H1403" fill="none" stroke="#000" stroke-width="3" stroke-linecap="square"/>
<path d="M950.5 819.2v-5.5M1041 819.2v-9.5M1131.5 819.2v-5.5M1222 819.2v-9.5M1312.5 819.2v-5.5M950.5 945.5v-5.5M1041 945.5v-9.5M1131.5 945.5v-5.5M1222 945.5v-9.5M1312.5 945.5v-5.5M950.5 1073.6v-5.5M1041 1073.6v-9.5M1131.5 1073.6v-5.5M1222 1073.6v-9.5M1312.5 1073.6v-5.5M950.5 1200.6v-5.5M1041 1200.6v-9.5M1131.5 1200.6v-5.5M1222 1200.6v-9.5M1312.5 1200.6v-5.5" stroke="#000" stroke-width="2.6"/>
<path d="M998.8 731.1V1199.1M1133 731.1V1199.1M1268.2 731.1V1199.1" stroke="#62985f" stroke-width="2" stroke-dasharray="11.5 5 3 5.5"/>
<path d="M860 709.1h9M860 768.8h9M860 840.7h9M860 880.3h9M860 919.3h9M860 972.6h9M860 1017.7h9M860 1063.7h9M860 1097.8h9M860 1124h9M860 1148.7h9M860 1174.9h9" stroke="#000" stroke-width="2.6"/>
<path d="M869 725.1H1397.5" stroke="#4f9050" stroke-width="10.0" stroke-linecap="round"/>
<path d="M869 725.4H1397.5" stroke="#72b86c" stroke-width="7.4" stroke-linecap="round"/>
<path d="M869 723.5H1397.5" stroke="#d2f7cb" stroke-width="3.6" stroke-dasharray="1.2 2.1"/>
<path d="M869 787.1H1397.5" stroke="#b07cb8" stroke-width="10.0" stroke-linecap="round"/>
<path d="M869 787.4H1397.5" stroke="#d79fdd" stroke-width="7.4" stroke-linecap="round"/>
<path d="M869 785.5H1397.5" stroke="#fbe6fc" stroke-width="3.6" stroke-dasharray="1.2 2.1"/>
<circle cx="865.4" cy="741.1" r="4.8" fill="url(#gG)"/>
<circle cx="865.4" cy="805.4" r="4.8" fill="url(#gP)"/>
<circle cx="1000" cy="741.1" r="4.8" fill="url(#gG)"/>
<circle cx="1000" cy="768.8" r="4.8" fill="url(#gP)"/>
<circle cx="1134.5" cy="709.1" r="4.8" fill="url(#gG)"/>
<circle cx="1134.5" cy="805.4" r="4.8" fill="url(#gP)"/>
<circle cx="1269.7" cy="709.1" r="4.8" fill="url(#gG)"/>
<circle cx="1269.7" cy="768.8" r="4.8" fill="url(#gP)"/>
<text x="830.6" y="715.5" font-size="36" text-anchor="end">8</text>
<text x="830.6" y="753.3" font-size="36" text-anchor="end">-8</text>
<text x="830.6" y="785.9" font-size="36" text-anchor="end">8</text>
<text x="830.6" y="818.9" font-size="36" text-anchor="end">-8</text>
<text x="876.8" y="770.2" font-size="34.5"><tspan fill="#6aaa66">0</tspan><tspan fill="#c48ad0">0</tspan></text>
<text x="1014.9" y="770.2" font-size="34.5"><tspan fill="#6aaa66">0</tspan><tspan fill="#c48ad0">1</tspan></text>
<text x="1142.2" y="770.2" font-size="34.5"><tspan fill="#6aaa66">1</tspan><tspan fill="#c48ad0">0</tspan></text>
<text x="1281.4" y="770.2" font-size="34.5"><tspan fill="#6aaa66">1</tspan><tspan fill="#c48ad0">1</tspan></text>
<text x="855.4" y="892.8" font-size="35" text-anchor="end">10<tspan font-size="21" dy="-15">-12</tspan></text>
<text x="855.4" y="1030.2" font-size="35" text-anchor="end">10<tspan font-size="21" dy="-15">-12</tspan></text>
<text x="855.4" y="1110.3" font-size="35" text-anchor="end">10<tspan font-size="21" dy="-15">-9</tspan></text>
<text x="855.4" y="1161.2" font-size="35" text-anchor="end">10<tspan font-size="21" dy="-15">-11</tspan></text>
<text x="855.4" y="1211.5" font-size="35" text-anchor="end">10<tspan font-size="21" dy="-15">-13</tspan></text>
<path d="M866 879.3 873.6 875.3 881.1 871.8 888.7 875.4 896.2 874.4 903.7 949.5 911.3 875.8 918.8 896.6 926.4 881.4 933.9 911.8 941.5 898.3 949 876.6 956.5 912.3 964.1 873.2 971.6 894.2 979.2 873.7 986.7 873.8 994.2 876.1 1001.8 901.7 1009.3 875.5 1016.9 897.1 1024.4 887.4 1032 879.2 1039.5 884.6 1047 869.3 1054.6 869.8 1062.1 873.7 1069.7 874.3 1077.2 904.3 1084.7 875.8 1092.3 871.6 1099.8 896 1107.4 906.3 1114.9 875.6 1122.5 883.5 1130 903.7 1137.5 870 1145.1 877 1152.6 905.6 1160.2 876 1167.7 876.9 1175.2 892.9 1182.8 888.8 1190.3 877.4 1197.9 882.1 1205.4 901.6 1212.9 898 1220.5 899 1228 873.3 1235.6 904.5 1243.1 907.2 1250.7 877.7 1258.2 903.9 1265.7 896.4 1273.3 873.8 1280.8 878.3 1288.4 873.5 1295.9 906 1303.5 903.7 1311 871.6 1318.5 876.1 1326.1 874.7 1333.6 876 1341.2 879.7 1348.7 890.9 1356.2 874.6 1363.8 876.6 1371.3 869 1378.9 870.5 1386.4 871.1 1393.9 881.5 1401.5 870.4" fill="none" stroke="#bd0a0a" stroke-width="2.8" stroke-linejoin="round" marker-start="url(#mR)" marker-mid="url(#mR)" marker-end="url(#mR)" clip-path="url(#c4)"/>
<path d="M866 1047.8 869.4 999.7 872.7 1051.6 876 1001.1 879.3 992 882.6 1000.1 885.9 999.9 889.3 993.5 892.6 996.9 895.9 996 899.2 1002.1 902.5 995.9 905.9 1030.3 909.2 999.8 912.5 997.5 915.8 1033.4 919.1 1001.9 922.4 999.1 925.8 1035.7 929.1 1001.7 932.4 1043.7 935.7 1029.2 939 1034 942.4 1033.7 945.7 999.3 949 997.2 952.3 998.1 955.6 998.6 958.9 1037.4 962.3 995.1 965.6 999.7 968.9 1000.5 972.2 1048.3 975.5 1025.2 978.9 1017.6 982.2 1039.8 985.5 1026 988.8 1031.6 992.1 1001.4 995.4 1024.3 998.8 1046.6 1002.1 997.4 1005.4 997.6 1008.7 1077.6 1012 992 1015.4 1030.2 1018.7 1077.6 1022 1044.4 1025.3 1041.1 1028.6 1020.6 1032 995.3 1035.3 1022.7 1038.6 1034.5 1041.9 1030.7 1045.2 1002.7 1048.5 1002.4 1051.9 996.5 1055.2 1000.7 1058.5 1014.2 1061.8 1003 1065.1 998.3 1068.5 996.9 1071.8 998.4 1075.1 1022.5 1078.4 1000.8 1081.7 1020.9 1085 1032.7 1088.4 999.7 1091.7 1001.5 1095 1046.1 1098.3 1023.1 1101.6 1049.3 1105 996.7 1108.3 1023.4 1111.6 1001.9 1114.9 1037.7 1118.2 1019.9 1121.5 1029.9 1124.9 995.6 1128.2 1041.5 1131.5 1035.6 1134.8 1032.1 1138.1 1000.6 1141.5 1040.8 1144.8 995.1 1148.1 993.5 1151.4 1044.5 1154.7 1002.4 1158 1041.2 1161.4 1041.5 1164.7 1001.4 1168 1038.3 1171.3 998.5 1174.6 996.6 1178 1027.3 1181.3 1031.7 1184.6 1000.9 1187.9 1017.1 1191.2 1016.7 1194.5 994.7 1197.9 995.8 1201.2 995.5 1204.5 1033.8 1207.8 1003.5 1211.1 996.7 1214.5 996.6 1217.8 1016 1221.1 1019.9 1224.4 1019.7 1227.7 995.9 1231 1001.6 1234.4 1023.2 1237.7 992 1241 1001 1244.3 997.8 1247.6 1018.9 1251 996.1 1254.3 997.2 1257.6 994.5 1260.9 1025.5 1264.2 1022.9 1267.6 1031 1270.9 1049 1274.2 998.7 1277.5 1027 1280.8 1043.5 1284.1 1029.5 1287.5 1019.8 1290.8 1005.9 1294.1 999.2 1297.4 1039.7 1300.7 998.8 1304.1 995.4 1307.4 998.2 1310.7 1023.7 1314 1035.7 1317.3 1035.2 1320.6 993.9 1324 1041.1 1327.3 998.7 1330.6 1030.4 1333.9 1038.6 1337.2 1000 1340.6 1020.4 1343.9 1042.3 1347.2 1040.2 1350.5 1040.3 1353.8 994.6 1357.1 1031.6 1360.5 1001.8 1363.8 999.6 1367.1 1001 1370.4 998.7 1373.7 995.1 1377.1 995 1380.4 1037.5 1383.7 1000.9 1387 996 1390.3 997.7 1393.6 992.6 1397 1029.4 1400.3 996.3" fill="none" stroke="#dd7d4c" stroke-width="2.8" stroke-linejoin="round" marker-start="url(#mO)" marker-mid="url(#mO)" marker-end="url(#mO)" clip-path="url(#c5)"/>
<path d="M865.5 1099.2H995.8" stroke="#000060" stroke-width="10.8" stroke-linecap="round"/>
<path d="M865.5 1099.5H995.8" stroke="#0c0c8c" stroke-width="8.200000000000001" stroke-linecap="round"/>
<path d="M865.5 1097.6H995.8" stroke="#a8a8ff" stroke-width="3.6" stroke-dasharray="1.2 2.1"/>
<path d="M994.8 1106.2L1000 1177" stroke="#0c0c8c" stroke-width="2.3" clip-path="url(#c6)"/>
<path d="M1000 1168.5 1003.3 1177.9 1006.6 1173.5 1009.9 1174.7 1013.2 1174 1016.6 1175.9 1019.9 1174.3 1023.2 1168.4 1026.5 1172 1029.8 1177.2 1033.2 1174.4 1036.5 1165.9 1039.8 1169.8 1043.1 1180.2 1046.4 1183.3 1049.7 1167.5 1053.1 1174.5 1056.4 1165.6 1059.7 1178.2 1063 1169.7 1066.3 1170.2 1069.7 1197.1 1073 1176.2 1076.3 1174 1079.6 1170.1 1082.9 1183.9 1086.3 1174.7 1089.6 1184.3 1092.9 1175.6 1096.2 1179 1099.5 1178.7 1102.8 1174.5 1106.2 1163.6 1109.5 1176.7 1112.8 1169.6 1116.1 1176.5 1119.4 1181.9 1122.8 1176.6 1126.1 1196.6 1129.4 1170.3 1132.7 1172 1136 1171.9 1139.3 1180.4 1142.7 1169.7 1146 1173.4 1149.3 1172.7 1152.6 1169.3 1155.9 1170.5 1159.3 1167.9 1162.6 1166.1 1165.9 1176.3 1169.2 1171.5 1172.5 1176.4 1175.8 1170.4 1179.2 1174 1182.5 1179.6 1185.8 1177.6 1189.1 1170.4 1192.4 1187.6 1195.8 1176.6 1199.1 1176 1202.4 1178.8 1205.7 1187.2 1209 1171.2 1212.3 1204.6 1215.7 1171.8 1219 1174.2 1222.3 1163.6 1225.6 1177.5 1228.9 1170.1 1232.3 1178.9 1235.6 1168.8 1238.9 1165.7 1242.2 1181.8 1245.5 1172.2 1248.8 1174.3 1252.2 1164.3 1255.5 1187.8 1258.8 1176.1 1262.1 1173.8 1265.4 1167 1268.8 1166.3 1272.1 1170.1 1275.4 1163.9 1278.7 1182.6 1282 1180.7 1285.3 1178.8 1288.7 1163.2 1292 1190.2 1295.3 1177.3 1298.6 1171.3 1301.9 1177.4 1305.3 1166.9 1308.6 1181.6 1311.9 1176.3 1315.2 1167 1318.5 1173.4 1321.9 1170.9 1325.2 1188 1328.5 1173.1 1331.8 1174.6 1335.1 1161 1338.4 1172.6 1341.8 1173.3 1345.1 1181.5 1348.4 1178.5 1351.7 1176 1355 1204.6 1358.4 1167.1 1361.7 1170 1365 1181.2 1368.3 1170.6 1371.6 1187.8 1374.9 1166.3 1378.3 1181.4 1381.6 1175.1 1384.9 1172.6 1388.2 1172.2 1391.5 1170.5 1394.9 1163.4 1398.2 1166.3 1401.5 1182" fill="none" stroke="#0c0c8c" stroke-width="2.8" stroke-linejoin="round" marker-start="url(#mN)" marker-mid="url(#mN)" marker-end="url(#mN)" clip-path="url(#c6)"/>
<text x="915" y="1137.3" font-size="34.5" fill="#0c0c80">1</text>
<text x="1055.5" y="1147.2" font-size="34.5" fill="#0c0c80">0</text>
<text x="1191" y="1147.2" font-size="34.5" fill="#0c0c80">0</text>
<text x="1329.8" y="1147.2" font-size="34.5" fill="#0c0c80">0</text>
<text x="852.2" y="1237" font-size="35.5" text-anchor="middle">0</text>
<text x="1033.2" y="1237" font-size="35.5" text-anchor="middle">6</text>
<text x="1214.2" y="1237" font-size="35.5" text-anchor="middle">12</text>
<text x="1395.2" y="1237" font-size="35.5" text-anchor="middle">18</text>
<text x="1054.9" y="1285" font-size="40.5" textLength="148.3" lengthAdjust="spacingAndGlyphs">Time (s)</text>
<text x="727.8" y="656.3" font-size="60" font-family="'Liberation Serif', 'Times New Roman', Times, serif">(e)</text>
<text x="764" y="821.2" font-size="38" transform="rotate(-90 764 821.2)" textLength="148.2" lengthAdjust="spacingAndGlyphs"><tspan font-style="italic">B</tspan> (V) <tspan font-style="italic">A</tspan> (V)</text>
<text x="762.9" y="945.7" font-size="39" transform="rotate(-90 762.9 945.7)" textLength="97.8" lengthAdjust="spacingAndGlyphs"><tspan font-style="italic">I</tspan><tspan font-size="30" dy="14">CG</tspan><tspan dy="-14"> (A)</tspan></text>
<text x="762.9" y="1067" font-size="39" transform="rotate(-90 762.9 1067)" textLength="95" lengthAdjust="spacingAndGlyphs"><tspan font-style="italic">I</tspan><tspan font-size="30" dy="14">TG</tspan><tspan dy="-14"> (A)</tspan></text>
<text x="762.9" y="1177.5" font-size="39" transform="rotate(-90 762.9 1177.5)" textLength="78.2" lengthAdjust="spacingAndGlyphs"><tspan font-style="italic">I</tspan><tspan font-size="30" dy="14">D</tspan><tspan dy="-14"> (A)</tspan></text>
<path d="M1594.2 691.1H2137V1199.5H1594.2ZM1594.2 818.3H2137M1594.2 944.5H2137M1594.2 1071.8H2137" fill="none" stroke="#000" stroke-width="3" stroke-linecap="square"/>
<path d="M1684.7 818.3v-5.5M1775.1 818.3v-9.5M1865.6 818.3v-5.5M1956.1 818.3v-9.5M2046.5 818.3v-5.5M1684.7 944.5v-5.5M1775.1 944.5v-9.5M1865.6 944.5v-5.5M1956.1 944.5v-9.5M2046.5 944.5v-5.5M1684.7 1071.8v-5.5M1775.1 1071.8v-9.5M1865.6 1071.8v-5.5M1956.1 1071.8v-9.5M2046.5 1071.8v-5.5M1684.7 1199.5v-5.5M1775.1 1199.5v-9.5M1865.6 1199.5v-5.5M1956.1 1199.5v-9.5M2046.5 1199.5v-5.5" stroke="#000" stroke-width="2.6"/>
<path d="M1732.9 730.3V1198M1867.1 730.3V1198M2002.2 730.3V1198" stroke="#62985f" stroke-width="2" stroke-dasharray="11.5 5 3 5.5"/>
<path d="M1594.2 708.2h9M1594.2 767.3h9M1594.2 832h9M1594.2 876.5h9M1594.2 921h9M1594.2 1000.2h9M1594.2 1055.5h9M1594.2 1125.4h9M1594.2 1161.8h9" stroke="#000" stroke-width="2.6"/>
<path d="M1603.2 724.3H2131.5" stroke="#4f9050" stroke-width="10.0" stroke-linecap="round"/>
<path d="M1603.2 724.6H2131.5" stroke="#72b86c" stroke-width="7.4" stroke-linecap="round"/>
<path d="M1603.2 722.7H2131.5" stroke="#d2f7cb" stroke-width="3.6" stroke-dasharray="1.2 2.1"/>
<path d="M1603.2 786.3H2131.5" stroke="#b07cb8" stroke-width="10.0" stroke-linecap="round"/>
<path d="M1603.2 786.6H2131.5" stroke="#d79fdd" stroke-width="7.4" stroke-linecap="round"/>
<path d="M1603.2 784.7H2131.5" stroke="#fbe6fc" stroke-width="3.6" stroke-dasharray="1.2 2.1"/>
<circle cx="1599.6" cy="740.4" r="4.8" fill="url(#gG)"/>
<circle cx="1599.6" cy="805.3" r="4.8" fill="url(#gP)"/>
<circle cx="1734.1" cy="740.4" r="4.8" fill="url(#gG)"/>
<circle cx="1734.1" cy="767.3" r="4.8" fill="url(#gP)"/>
<circle cx="1868.6" cy="708.2" r="4.8" fill="url(#gG)"/>
<circle cx="1868.6" cy="805.3" r="4.8" fill="url(#gP)"/>
<circle cx="2003.7" cy="708.2" r="4.8" fill="url(#gG)"/>
<circle cx="2003.7" cy="767.3" r="4.8" fill="url(#gP)"/>
<text x="1559.8" y="713.9" font-size="36" text-anchor="end">8</text>
<text x="1559.8" y="748.9" font-size="36" text-anchor="end">-8</text>
<text x="1559.8" y="783.9" font-size="36" text-anchor="end">8</text>
<text x="1559.8" y="820.9" font-size="36" text-anchor="end">-8</text>
<text x="1611.8" y="769.1" font-size="34.5"><tspan fill="#6aaa66">0</tspan><tspan fill="#c48ad0">0</tspan></text>
<text x="1749.9" y="769.1" font-size="34.5"><tspan fill="#6aaa66">0</tspan><tspan fill="#c48ad0">1</tspan></text>
<text x="1877.2" y="769.1" font-size="34.5"><tspan fill="#6aaa66">1</tspan><tspan fill="#c48ad0">0</tspan></text>
<text x="2016.4" y="769.1" font-size="34.5"><tspan fill="#6aaa66">1</tspan><tspan fill="#c48ad0">1</tspan></text>
<text x="1590.4" y="889" font-size="35" text-anchor="end">10<tspan font-size="21" dy="-15">-12</tspan></text>
<text x="1590.4" y="1012.7" font-size="35" text-anchor="end">10<tspan font-size="21" dy="-15">-12</tspan></text>
<text x="1590.4" y="1137.9" font-size="35" text-anchor="end">10<tspan font-size="21" dy="-15">-11</tspan></text>
<text x="1590.4" y="1210.5" font-size="35" text-anchor="end">10<tspan font-size="21" dy="-15">-13</tspan></text>
<path d="M1600.2 833 1603.5 858.5 1606.9 878.7 1610.2 855.9 1613.5 856.1 1616.8 858.5 1620.1 857.8 1623.5 858.6 1626.8 885.5 1630.1 852.8 1633.4 893.2 1636.7 856.5 1640 892.4 1643.4 855 1646.7 858.8 1650 860.8 1653.3 849.7 1656.6 880.4 1659.9 855.3 1663.3 860.6 1666.6 881.7 1669.9 855.9 1673.2 863.3 1676.5 860 1679.8 859.2 1683.2 860.1 1686.5 850.3 1689.8 883.3 1693.1 871.2 1696.4 861.9 1699.7 895.5 1703.1 948.5 1706.4 877.9 1709.7 899 1713 862 1716.3 861.6 1719.6 854 1723 860.6 1726.3 858.1 1729.6 858.6 1732.9 848 1736.2 855.7 1739.5 887.4 1742.9 861.3 1746.2 856.1 1749.5 883.2 1752.8 895.2 1756.1 860.2 1759.5 884.5 1762.8 853.1 1766.1 858.7 1769.4 857.3 1772.7 889.1 1776 948.5 1779.4 857.7 1782.7 865.6 1786 893.6 1789.3 852.9 1792.6 887.6 1795.9 853.7 1799.3 881 1802.6 878.1 1805.9 853 1809.2 860.8 1812.5 867.1 1815.8 858.7 1819.2 883 1822.5 860 1825.8 898.4 1829.1 859.1 1832.4 848.9 1835.7 871.7 1839.1 856.2 1842.4 856.1 1845.7 861 1849 855.7 1852.3 857.3 1855.6 848 1859 854.9 1862.3 886.1 1865.6 879.7 1868.9 862.3 1872.2 888.3 1875.6 876.8 1878.9 904.1 1882.2 901.7 1885.5 898.1 1888.8 856.2 1892.1 886.2 1895.5 863.8 1898.8 854.9 1902.1 850.9 1905.4 853.5 1908.7 860.5 1912 852.3 1915.4 889.3 1918.7 866.2 1922 854.7 1925.3 889.7 1928.6 864.4 1931.9 862.4 1935.3 860.7 1938.6 859 1941.9 863.1 1945.2 855.2 1948.5 855.9 1951.8 873.2 1955.2 850.6 1958.5 859.4 1961.8 898.9 1965.1 860.3 1968.4 879.5 1971.7 858.9 1975.1 899.5 1978.4 853 1981.7 860.7 1985 948.5 1988.3 852.8 1991.7 862.1 1995 864.1 1998.3 887.5 2001.6 859.7 2004.9 848.1 2008.2 856.9 2011.6 857 2014.9 857.4 2018.2 848 2021.5 860.8 2024.8 851.3 2028.1 877.1 2031.5 848 2034.8 895.2 2038.1 861.2 2041.4 883 2044.7 897.1 2048 892.6 2051.4 858 2054.7 857.2 2058 848 2061.3 858.1 2064.6 852.3 2067.9 893.1 2071.3 855.6 2074.6 862 2077.9 892.6 2081.2 857.2 2084.5 883.8 2087.8 892.1 2091.2 868.6 2094.5 860.8 2097.8 854.7 2101.1 853.9 2104.4 850.9 2107.7 848 2111.1 904.1 2114.4 855.2 2117.7 853.6 2121 859.5 2124.3 852.7 2127.7 860 2131 859.6 2134.3 855.8" fill="none" stroke="#bd0a0a" stroke-width="2.8" stroke-linejoin="round" marker-start="url(#mR)" marker-mid="url(#mR)" marker-end="url(#mR)" clip-path="url(#c7)"/>
<path d="M1600.2 967 1603.5 1037.2 1606.9 1023 1610.2 987.7 1613.5 1075.8 1616.8 1075.8 1620.1 983.6 1623.5 1011.9 1626.8 1009.9 1630.1 1014.9 1633.4 1043.4 1636.7 986.6 1640 1012 1643.4 998.2 1646.7 993.7 1650 988.2 1653.3 994.4 1656.6 995.3 1659.9 1075.8 1663.3 992.7 1666.6 993.3 1669.9 987.9 1673.2 997.1 1676.5 1002.1 1679.8 986.1 1683.2 1075.8 1686.5 996.5 1689.8 1037.9 1693.1 1018.4 1696.4 1036.6 1699.7 995.5 1703.1 991.8 1706.4 1043.9 1709.7 993.8 1713 985.7 1716.3 1038.2 1719.6 993 1723 1075.8 1726.3 988.8 1729.6 994.1 1732.9 990.2 1736.2 988.9 1739.5 1013 1742.9 1018.5 1746.2 1032.8 1749.5 1075.8 1752.8 1009.7 1756.1 1010.3 1759.5 1010.6 1762.8 1022.1 1766.1 1045.7 1769.4 1021.4 1772.7 1024 1776 1029.2 1779.4 1007 1782.7 1031.3 1786 993.2 1789.3 986.2 1792.6 1032.2 1795.9 1075.8 1799.3 990.6 1802.6 987.5 1805.9 1018.8 1809.2 988.7 1812.5 988.1 1815.8 992.5 1819.2 994.8 1822.5 989.8 1825.8 987 1829.1 990.4 1832.4 996.2 1835.7 998.9 1839.1 998.6 1842.4 1018.1 1845.7 1013.4 1849 994.9 1852.3 999.9 1855.6 1027.5 1859 1025.3 1862.3 1020.6 1865.6 987.9 1868.9 1032.1 1872.2 995.3 1875.6 996.7 1878.9 1030.5 1882.2 1004.4 1885.5 1026.1 1888.8 992.4 1892.1 991.7 1895.5 984.2 1898.8 993.1 1902.1 1020.9 1905.4 1009.2 1908.7 996.1 1912 996.3 1915.4 1011.9 1918.7 995.5 1922 1020.1 1925.3 1019.4 1928.6 1006.9 1931.9 987.9 1935.3 1011 1938.6 995.6 1941.9 1001.3 1945.2 1007.5 1948.5 991.3 1951.8 1027.3 1955.2 1028.2 1958.5 1026.7 1961.8 993.3 1965.1 985.9 1968.4 995.5 1971.7 997.1 1975.1 993.5 1978.4 1075.8 1981.7 989.5 1985 997.4 1988.3 1022.6 1991.7 1028.2 1995 988.7 1998.3 1022.6 2001.6 997.5 2004.9 1030 2008.2 983.3 2011.6 999.4 2014.9 1008.9 2018.2 1002.1 2021.5 992.1 2024.8 992 2028.1 982.5 2031.5 1021.7 2034.8 1020 2038.1 991 2041.4 986.7 2044.7 1005.7 2048 1028.1 2051.4 999.7 2054.7 988.8 2058 984.2 2061.3 992.1 2064.6 991.9 2067.9 986.3 2071.3 989.9 2074.6 990.8 2077.9 1030.9 2081.2 988.2 2084.5 1003.6 2087.8 1017.4 2091.2 992.5 2094.5 993.3 2097.8 1023.5 2101.1 993.3 2104.4 980 2107.7 980 2111.1 984.6 2114.4 990.4 2117.7 1000.4 2121 997.4 2124.3 988.4 2127.7 1075.8 2131 1029.6 2134.3 1075.8" fill="none" stroke="#dd7d4c" stroke-width="2.8" stroke-linejoin="round" marker-start="url(#mO)" marker-mid="url(#mO)" marker-end="url(#mO)" clip-path="url(#c8)"/>
<path d="M1599.7 1089H1729.9" stroke="#000060" stroke-width="10.8" stroke-linecap="round"/>
<path d="M1599.7 1089.3H1729.9" stroke="#0c0c8c" stroke-width="8.200000000000001" stroke-linecap="round"/>
<path d="M1599.7 1087.4H1729.9" stroke="#a8a8ff" stroke-width="3.6" stroke-dasharray="1.2 2.1"/>
<path d="M1728.9 1096L1734.1 1164" stroke="#0c0c8c" stroke-width="2.3" clip-path="url(#c9)"/>
<path d="M1734.1 1155.1 1737.4 1165.2 1740.8 1157.4 1744.1 1154 1747.4 1155.7 1750.7 1173.3 1754 1161 1757.3 1160.7 1760.7 1203.5 1764 1179 1767.3 1203.5 1770.6 1174.8 1773.9 1172.9 1777.2 1160.7 1780.6 1203.5 1783.9 1174 1787.2 1186.7 1790.5 1180.9 1793.8 1203.5 1797.1 1158.2 1800.5 1203.5 1803.8 1185.1 1807.1 1155.8 1810.4 1203.5 1813.7 1152 1817 1186.1 1820.4 1203.5 1823.7 1174.2 1827 1164.9 1830.3 1164.4 1833.6 1185 1837 1158.7 1840.3 1158.2 1843.6 1166 1846.9 1165.8 1850.2 1162.7 1853.5 1167.7 1856.9 1150.6 1860.2 1190.7 1863.5 1203.5 1866.8 1165.3 1870.1 1192.1 1873.4 1152.9 1876.8 1203.5 1880.1 1165.6 1883.4 1183.5 1886.7 1174 1890 1203.5 1893.3 1162.2 1896.7 1157.5 1900 1203.5 1903.3 1179.1 1906.6 1176.3 1909.9 1177.8 1913.2 1185.5 1916.6 1161.7 1919.9 1203.5 1923.2 1170.1 1926.5 1156.6 1929.8 1180.7 1933.1 1160.2 1936.5 1170.6 1939.8 1158.9 1943.1 1179.4 1946.4 1185.1 1949.7 1185.9 1953.1 1170 1956.4 1166.8 1959.7 1160.8 1963 1174.2 1966.3 1187.2 1969.6 1153.2 1973 1166 1976.3 1162.9 1979.6 1179 1982.9 1161.2 1986.2 1162.2 1989.5 1171.3 1992.9 1172.1 1996.2 1203.5 1999.5 1167 2002.8 1173.9 2006.1 1178.7 2009.4 1203.5 2012.8 1203.5 2016.1 1176.2 2019.4 1159.3 2022.7 1176 2026 1163.6 2029.3 1158.6 2032.7 1179.6 2036 1203.5 2039.3 1190 2042.6 1168.5 2045.9 1203.5 2049.2 1186.4 2052.6 1172.9 2055.9 1179.1 2059.2 1168.4 2062.5 1181.1 2065.8 1174.8 2069.1 1193.2 2072.5 1164.8 2075.8 1159.1 2079.1 1165.5 2082.4 1154.2 2085.7 1158.6 2089.1 1156.2 2092.4 1166.1 2095.7 1155.2 2099 1160.3 2102.3 1183.7 2105.6 1203.5 2109 1167.3 2112.3 1203.5 2115.6 1168.9 2118.9 1178.2 2122.2 1177.3 2125.5 1186.5 2128.9 1154.4 2132.2 1149.2 2135.5 1174.6" fill="none" stroke="#0c0c8c" stroke-width="2.8" stroke-linejoin="round" marker-start="url(#mN)" marker-mid="url(#mN)" marker-end="url(#mN)" clip-path="url(#c9)"/>
<text x="1650" y="1137.3" font-size="34.5" fill="#0c0c80">1</text>
<text x="1790.5" y="1147.2" font-size="34.5" fill="#0c0c80">0</text>
<text x="1926" y="1147.2" font-size="34.5" fill="#0c0c80">0</text>
<text x="2064.8" y="1147.2" font-size="34.5" fill="#0c0c80">0</text>
<text x="1586.4" y="1237" font-size="35.5" text-anchor="middle">0</text>
<text x="1767.3" y="1237" font-size="35.5" text-anchor="middle">6</text>
<text x="1948.3" y="1237" font-size="35.5" text-anchor="middle">12</text>
<text x="2129.2" y="1237" font-size="35.5" text-anchor="middle">18</text>
<text x="1794.7" y="1285" font-size="40.5" textLength="150.6" lengthAdjust="spacingAndGlyphs">Time (s)</text>
<text x="1487" y="657" font-size="60" font-family="'Liberation Serif', 'Times New Roman', Times, serif">(h)</text>
<text x="1498.7" y="819.7" font-size="38" transform="rotate(-90 1498.7 819.7)" textLength="146.7" lengthAdjust="spacingAndGlyphs"><tspan font-style="italic">B</tspan> (V) <tspan font-style="italic">A</tspan> (V)</text>
<text x="1495.8" y="945" font-size="39" transform="rotate(-90 1495.8 945)" textLength="96.2" lengthAdjust="spacingAndGlyphs"><tspan font-style="italic">I</tspan><tspan font-size="30" dy="14">CG</tspan><tspan dy="-14"> (A)</tspan></text>
<text x="1495.8" y="1071.6" font-size="39" transform="rotate(-90 1495.8 1071.6)" textLength="96.1" lengthAdjust="spacingAndGlyphs"><tspan font-style="italic">I</tspan><tspan font-size="30" dy="14">TG</tspan><tspan dy="-14"> (A)</tspan></text>
<text x="1497.3" y="1188.2" font-size="39" transform="rotate(-90 1497.3 1188.2)" textLength="77.9" lengthAdjust="spacingAndGlyphs"><tspan font-style="italic">I</tspan><tspan font-size="30" dy="14">D</tspan><tspan dy="-14"> (A)</tspan></text>
<path d="M129 1339.5H671.5V1847H129ZM129 1465.5H671.5M129 1592.5H671.5M129 1720.5H671.5" fill="none" stroke="#000" stroke-width="3" stroke-linecap="square"/>
<path d="M219.4 1465.5v-5.5M309.8 1465.5v-9.5M400.2 1465.5v-5.5M490.7 1465.5v-9.5M581.1 1465.5v-5.5M219.4 1592.5v-5.5M309.8 1592.5v-9.5M400.2 1592.5v-5.5M490.7 1592.5v-9.5M581.1 1592.5v-5.5M219.4 1720.5v-5.5M309.8 1720.5v-9.5M400.2 1720.5v-5.5M490.7 1720.5v-9.5M581.1 1720.5v-5.5M219.4 1847v-5.5M309.8 1847v-9.5M400.2 1847v-5.5M490.7 1847v-9.5M581.1 1847v-5.5" stroke="#000" stroke-width="2.6"/>
<path d="M267.6 1379V1845.5M401.8 1379V1845.5M536.8 1379V1845.5" stroke="#62985f" stroke-width="2" stroke-dasharray="11.5 5 3 5.5"/>
<path d="M129 1356.4h9M129 1416.4h9M129 1506.6h9M129 1586h9M129 1614.5h9M129 1649.4h9M129 1684.3h9M129 1755.3h9M129 1774.1h9M129 1792.3h9M129 1810.9h9M129 1829.3h9" stroke="#000" stroke-width="2.6"/>
<path d="M138 1373H666" stroke="#4f9050" stroke-width="10.0" stroke-linecap="round"/>
<path d="M138 1373.3H666" stroke="#72b86c" stroke-width="7.4" stroke-linecap="round"/>
<path d="M138 1371.4H666" stroke="#d2f7cb" stroke-width="3.6" stroke-dasharray="1.2 2.1"/>
<path d="M138 1434.6H666" stroke="#b07cb8" stroke-width="10.0" stroke-linecap="round"/>
<path d="M138 1434.9H666" stroke="#d79fdd" stroke-width="7.4" stroke-linecap="round"/>
<path d="M138 1433H666" stroke="#fbe6fc" stroke-width="3.6" stroke-dasharray="1.2 2.1"/>
<circle cx="134.4" cy="1389.6" r="4.8" fill="url(#gG)"/>
<circle cx="134.4" cy="1452.8" r="4.8" fill="url(#gP)"/>
<circle cx="268.8" cy="1389.6" r="4.8" fill="url(#gG)"/>
<circle cx="268.8" cy="1416.4" r="4.8" fill="url(#gP)"/>
<circle cx="403.3" cy="1356.4" r="4.8" fill="url(#gG)"/>
<circle cx="403.3" cy="1452.8" r="4.8" fill="url(#gP)"/>
<circle cx="538.3" cy="1356.4" r="4.8" fill="url(#gG)"/>
<circle cx="538.3" cy="1416.4" r="4.8" fill="url(#gP)"/>
<text x="101.5" y="1354.9" font-size="36" text-anchor="end">8</text>
<text x="101.5" y="1389.6" font-size="36" text-anchor="end">-8</text>
<text x="101.5" y="1427.9" font-size="36" text-anchor="end">8</text>
<text x="101.5" y="1464.6" font-size="36" text-anchor="end">-8</text>
<text x="145.9" y="1416.7" font-size="34.5"><tspan fill="#6aaa66">0</tspan><tspan fill="#c48ad0">0</tspan></text>
<text x="283.9" y="1416.7" font-size="34.5"><tspan fill="#6aaa66">0</tspan><tspan fill="#c48ad0">1</tspan></text>
<text x="412.2" y="1416.7" font-size="34.5"><tspan fill="#6aaa66">1</tspan><tspan fill="#c48ad0">0</tspan></text>
<text x="550.3" y="1416.7" font-size="34.5"><tspan fill="#6aaa66">1</tspan><tspan fill="#c48ad0">1</tspan></text>
<text x="120" y="1516.5" font-size="36" text-anchor="end">10p</text>
<text x="120" y="1661.4" font-size="36" text-anchor="end">1p</text>
<text x="120" y="1731.4" font-size="36" text-anchor="end">10f</text>
<text x="120" y="1787" font-size="36" text-anchor="end">100p</text>
<text x="120" y="1857.9" font-size="36" text-anchor="end">10f</text>
<path d="M135 1698.2 138.3 1651.9 141.7 1661.8 145 1647.3 148.3 1689.8 151.6 1664.4 154.9 1699 158.2 1655.4 161.6 1655.6 164.9 1669.5 168.2 1659.9 171.5 1690.3 174.8 1686.4 178.1 1662.7 181.4 1684.3 184.8 1651.3 188.1 1652.6 191.4 1673.7 194.7 1648.1 198 1701.3 201.3 1649.3 204.6 1661.7 208 1662.8 211.3 1650.6 214.6 1688.1 217.9 1669.6 221.2 1655.3 224.5 1666.5 227.9 1659.4 231.2 1660.9 234.5 1664 237.8 1656.4 241.1 1652.1 244.4 1655.2 247.7 1654.3 251.1 1654.2 254.4 1654 257.7 1655 261 1653.4 264.3 1652.6 267.6 1669.3 271 1649.8 274.3 1656.7 277.6 1654.7 280.9 1682 284.2 1662.2 287.5 1657.4 290.8 1683.2 294.2 1669.3 297.5 1661.3 300.8 1670.8 304.1 1666.6 307.4 1663.1 310.7 1663.9 314.1 1663.8 317.4 1654.7 320.7 1672.5 324 1657.1 327.3 1651.9 330.6 1697.4 333.9 1659.5 337.3 1689.3 340.6 1684.6 343.9 1664.8 347.2 1656.3 350.5 1672 353.8 1654.3 357.2 1654.5 360.5 1654.4 363.8 1674.3 367.1 1658 370.4 1669.1 373.7 1668.6 377 1670.3 380.4 1657.9 383.7 1662.7 387 1660.7 390.3 1658.8 393.6 1724.5 396.9 1653.4 400.3 1662.4 403.6 1675.6 406.9 1658 410.2 1660.9 413.5 1651.3 416.8 1649.2 420.1 1665.8 423.5 1651.2 426.8 1658 430.1 1665.4 433.4 1663.9 436.7 1664.6 440 1671 443.3 1658.3 446.7 1663.2 450 1657.1 453.3 1660.4 456.6 1677.6 459.9 1695.6 463.2 1706 466.6 1671.3 469.9 1660 473.2 1724.5 476.5 1660.3 479.8 1657.2 483.1 1672.9 486.4 1662.1 489.8 1686.6 493.1 1661.1 496.4 1666.3 499.7 1666.9 503 1682.7 506.3 1660.2 509.7 1648.8 513 1658.2 516.3 1663.8 519.6 1665.7 522.9 1656.6 526.2 1648.9 529.5 1655.4 532.9 1661.7 536.2 1660.1 539.5 1660.1 542.8 1663.8 546.1 1662 549.4 1662.2 552.8 1652.7 556.1 1666.1 559.4 1659.8 562.7 1659.5 566 1655.5 569.3 1655.3 572.6 1660.3 576 1674.4 579.3 1660 582.6 1673 585.9 1657.2 589.2 1687.7 592.5 1658.1 595.9 1649.1 599.2 1659.8 602.5 1643.3 605.8 1691.2 609.1 1664.2 612.4 1653.9 615.7 1654.1 619.1 1709 622.4 1660.8 625.7 1669.4 629 1673.7 632.3 1658.5 635.6 1661.6 638.9 1660.1 642.3 1645.4 645.6 1698.5 648.9 1652.2 652.2 1648.4 655.5 1648.2 658.8 1664.6 662.2 1657.5 665.5 1660.6 668.8 1655.4" fill="none" stroke="#dd7d4c" stroke-width="2.8" stroke-linejoin="round" marker-start="url(#mO)" marker-mid="url(#mO)" marker-end="url(#mO)" clip-path="url(#c10)"/>
<circle cx="134.4" cy="1506.6" r="5.3" fill="url(#gR)"/>
<circle cx="268.8" cy="1513.7" r="5.3" fill="url(#gR)"/>
<circle cx="403.3" cy="1508" r="5.3" fill="url(#gR)"/>
<circle cx="538.3" cy="1502.5" r="5.3" fill="url(#gR)"/>
<path d="M134.5 1738.6H264.6" stroke="#000060" stroke-width="10.8" stroke-linecap="round"/>
<path d="M134.5 1738.9H264.6" stroke="#0c0c8c" stroke-width="8.200000000000001" stroke-linecap="round"/>
<path d="M134.5 1737H264.6" stroke="#a8a8ff" stroke-width="3.6" stroke-dasharray="1.2 2.1"/>
<path d="M263.6 1745.6L268.8 1816" stroke="#0c0c8c" stroke-width="2.3" clip-path="url(#c11)"/>
<path d="M268.8 1828.1 272.2 1804.5 275.5 1812.1 278.8 1818.1 282.1 1805.9 285.4 1804.7 288.7 1816.4 292.1 1806.3 295.4 1817.7 298.7 1810.1 302 1828.3 305.3 1806.3 308.6 1816.9 311.9 1810.8 315.3 1810.2 318.6 1811.4 321.9 1814.9 325.2 1825.6 328.5 1801.3 331.8 1818.7 335.2 1832.2 338.5 1837 341.8 1851 345.1 1824.9 348.4 1816.6 351.7 1822.6 355 1813.4 358.4 1812.4 361.7 1817.9 365 1818.7 368.3 1820.6 371.6 1817.4 374.9 1822.2 378.2 1813.1 381.6 1817.6 384.9 1822.3 388.2 1826.5 391.5 1807.3 394.8 1803.2 398.1 1815.1 401.5 1812.9 404.8 1818.1 408.1 1813.3 411.4 1830.4 414.7 1819.6 418 1808.2 421.3 1826.5 424.7 1807.2 428 1819.7 431.3 1812.1 434.6 1805.3 437.9 1805.5 441.2 1808.8 444.6 1802.6 447.9 1810.8 451.2 1799.8 454.5 1825.1 457.8 1804.8 461.1 1810.5 464.4 1814.4 467.8 1818 471.1 1816.9 474.4 1811.3 477.7 1815.9 481 1811 484.3 1810.8 487.7 1806.4 491 1823.7 494.3 1801.8 497.6 1810.7 500.9 1821.1 504.2 1810.3 507.5 1818.2 510.9 1817.6 514.2 1814.5 517.5 1826.9 520.8 1809.4 524.1 1805.9 527.4 1803.2 530.8 1820 534.1 1814.8 537.4 1818.9 540.7 1824.1 544 1819.5 547.3 1811 550.6 1814.2 554 1819.3 557.3 1808 560.6 1820.9 563.9 1810.3 567.2 1816 570.5 1807 573.8 1817.1 577.2 1812 580.5 1813.1 583.8 1809.6 587.1 1812.3 590.4 1819.4 593.7 1810.6 597.1 1820.4 600.4 1821.8 603.7 1814.8 607 1805.9 610.3 1797.9 613.6 1809.8 616.9 1812.9 620.3 1829.5 623.6 1825.1 626.9 1831.2 630.2 1816 633.5 1818.4 636.8 1815.1 640.2 1814.2 643.5 1810.9 646.8 1814.1 650.1 1808.8 653.4 1815.7 656.7 1806.6 660 1814.5 663.4 1821.4 666.7 1814.7 670 1823.4" fill="none" stroke="#0c0c8c" stroke-width="2.8" stroke-linejoin="round" marker-start="url(#mN)" marker-mid="url(#mN)" marker-end="url(#mN)" clip-path="url(#c11)"/>
<text x="184.6" y="1786" font-size="34.5" fill="#0c0c80">1</text>
<text x="325.1" y="1795.4" font-size="34.5" fill="#0c0c80">0</text>
<text x="460.2" y="1795.4" font-size="34.5" fill="#0c0c80">0</text>
<text x="599.3" y="1795.4" font-size="34.5" fill="#0c0c80">0</text>
<text x="142.2" y="1556.6" font-size="34.5" fill="#a80c0c">1</text>
<text x="280.3" y="1556.6" font-size="34.5" fill="#a80c0c">0</text>
<text x="416.5" y="1556.6" font-size="34.5" fill="#a80c0c">0</text>
<text x="556.4" y="1556.6" font-size="34.5" fill="#a80c0c">0</text>
<text x="121.6" y="1884" font-size="35.5" text-anchor="middle">0</text>
<text x="302.4" y="1884" font-size="35.5" text-anchor="middle">6</text>
<text x="483.3" y="1884" font-size="35.5" text-anchor="middle">12</text>
<text x="664.1" y="1884" font-size="35.5" text-anchor="middle">18</text>
<text x="315.3" y="1930" font-size="40.5" textLength="149.3" lengthAdjust="spacingAndGlyphs">Time (s)</text>
<text x="22.5" y="1305.8" font-size="60" font-family="'Liberation Serif', 'Times New Roman', Times, serif">(c)</text>
<text x="40.4" y="1481.3" font-size="41" transform="rotate(-90 40.4 1481.3)" textLength="152.3" lengthAdjust="spacingAndGlyphs"><tspan font-style="italic">B</tspan> (V) <tspan font-style="italic">A</tspan> (V)</text>
<text x="40.4" y="1739.2" font-size="41" transform="rotate(-90 40.4 1739.2)" textLength="156.3" lengthAdjust="spacingAndGlyphs">Power (W)</text>
<path d="M311.6 1486h71" stroke="#bd0a0a" stroke-width="2.6"/>
<circle cx="347.1" cy="1486" r="5.3" fill="url(#gR)"/>
<text x="391.1" y="1497" font-size="30" textLength="219" lengthAdjust="spacingAndGlyphs"><tspan font-style="italic">P</tspan><tspan font-size="21" dy="7">CG</tspan><tspan dy="-7"> = |<tspan font-style="italic">V</tspan><tspan font-size="21" dy="7">CG</tspan><tspan dy="-7">*<tspan font-style="italic">I</tspan><tspan font-size="21" dy="7">CG</tspan><tspan dy="-7">|</tspan></tspan></tspan></text>
<path d="M311.6 1613.7h71" stroke="#dd7d4c" stroke-width="2.6"/>
<circle cx="347.1" cy="1613.7" r="5.3" fill="url(#gO)"/>
<text x="391.1" y="1624.7" font-size="30" textLength="211" lengthAdjust="spacingAndGlyphs"><tspan font-style="italic">P</tspan><tspan font-size="21" dy="7">TG</tspan><tspan dy="-7"> = |<tspan font-style="italic">V</tspan><tspan font-size="21" dy="7">TG</tspan><tspan dy="-7">*<tspan font-style="italic">I</tspan><tspan font-size="21" dy="7">TG</tspan><tspan dy="-7">|</tspan></tspan></tspan></text>
<path d="M311.6 1738.4h71" stroke="#0c0c8c" stroke-width="2.6"/>
<circle cx="347.1" cy="1738.4" r="5.3" fill="url(#gN)"/>
<text x="391.1" y="1749.4" font-size="30" textLength="254" lengthAdjust="spacingAndGlyphs"><tspan font-style="italic">P</tspan><tspan font-size="21" dy="7">Channel</tspan><tspan dy="-7"> = |<tspan font-style="italic">V</tspan><tspan font-size="21" dy="7">DD</tspan><tspan dy="-7">*<tspan font-style="italic">I</tspan><tspan font-size="21" dy="7">D</tspan><tspan dy="-7">|</tspan></tspan></tspan></text>
<path d="M860 1336.5H1402V1844H860ZM860 1463.3H1402M860 1590.7H1402M860 1718.1H1402" fill="none" stroke="#000" stroke-width="3" stroke-linecap="square"/>
<path d="M950.3 1463.3v-5.5M1040.7 1463.3v-9.5M1131 1463.3v-5.5M1221.3 1463.3v-9.5M1311.7 1463.3v-5.5M950.3 1590.7v-5.5M1040.7 1590.7v-9.5M1131 1590.7v-5.5M1221.3 1590.7v-9.5M1311.7 1590.7v-5.5M950.3 1718.1v-5.5M1040.7 1718.1v-9.5M1131 1718.1v-5.5M1221.3 1718.1v-9.5M1311.7 1718.1v-5.5M950.3 1844v-5.5M1040.7 1844v-9.5M1131 1844v-5.5M1221.3 1844v-9.5M1311.7 1844v-5.5" stroke="#000" stroke-width="2.6"/>
<path d="M998.5 1375.4V1842.5M1132.5 1375.4V1842.5M1267.4 1375.4V1842.5" stroke="#62985f" stroke-width="2" stroke-dasharray="11.5 5 3 5.5"/>
<path d="M860 1352.5h9M860 1413h9M860 1493.6h9M860 1538.2h9M860 1582.7h9M860 1615.5h9M860 1641.5h9M860 1667.5h9M860 1693h9M860 1759.5h9M860 1785.6h9M860 1812h9M860 1838.5h9" stroke="#000" stroke-width="2.6"/>
<path d="M869 1369.4H1396.5" stroke="#4f9050" stroke-width="10.0" stroke-linecap="round"/>
<path d="M869 1369.7H1396.5" stroke="#72b86c" stroke-width="7.4" stroke-linecap="round"/>
<path d="M869 1367.8H1396.5" stroke="#d2f7cb" stroke-width="3.6" stroke-dasharray="1.2 2.1"/>
<path d="M869 1430.8H1396.5" stroke="#b07cb8" stroke-width="10.0" stroke-linecap="round"/>
<path d="M869 1431.1H1396.5" stroke="#d79fdd" stroke-width="7.4" stroke-linecap="round"/>
<path d="M869 1429.2H1396.5" stroke="#fbe6fc" stroke-width="3.6" stroke-dasharray="1.2 2.1"/>
<circle cx="865.4" cy="1386.3" r="4.8" fill="url(#gG)"/>
<circle cx="865.4" cy="1448.6" r="4.8" fill="url(#gP)"/>
<circle cx="999.7" cy="1386.3" r="4.8" fill="url(#gG)"/>
<circle cx="999.7" cy="1413" r="4.8" fill="url(#gP)"/>
<circle cx="1134" cy="1352.5" r="4.8" fill="url(#gG)"/>
<circle cx="1134" cy="1448.6" r="4.8" fill="url(#gP)"/>
<circle cx="1268.9" cy="1352.5" r="4.8" fill="url(#gG)"/>
<circle cx="1268.9" cy="1413" r="4.8" fill="url(#gP)"/>
<text x="839.4" y="1362.9" font-size="36" text-anchor="end">8</text>
<text x="839.4" y="1398.9" font-size="36" text-anchor="end">-8</text>
<text x="839.4" y="1434.9" font-size="36" text-anchor="end">8</text>
<text x="839.4" y="1466.7" font-size="36" text-anchor="end">-8</text>
<text x="875.2" y="1413" font-size="34.5"><tspan fill="#6aaa66">0</tspan><tspan fill="#c48ad0">0</tspan></text>
<text x="1015.1" y="1413" font-size="34.5"><tspan fill="#6aaa66">0</tspan><tspan fill="#c48ad0">1</tspan></text>
<text x="1141.6" y="1413" font-size="34.5"><tspan fill="#6aaa66">1</tspan><tspan fill="#c48ad0">0</tspan></text>
<text x="1279.6" y="1413" font-size="34.5"><tspan fill="#6aaa66">1</tspan><tspan fill="#c48ad0">1</tspan></text>
<text x="849" y="1551.1" font-size="36" text-anchor="end">10p</text>
<text x="849" y="1654.4" font-size="36" text-anchor="end">10p</text>
<text x="849" y="1772.4" font-size="36" text-anchor="end">10p</text>
<text x="849" y="1851.4" font-size="36" text-anchor="end">10f</text>
<path d="M866 1678.8 869.3 1650.9 872.6 1650.8 876 1644.2 879.3 1652.5 882.6 1662 885.9 1670 889.2 1648.8 892.5 1643.3 895.8 1646.8 899.1 1641.3 902.5 1641.8 905.8 1655.3 909.1 1648.2 912.4 1685.4 915.7 1647.1 919 1647.8 922.3 1641 925.6 1641 929 1643.6 932.3 1641 935.6 1646.5 938.9 1649.7 942.2 1670.8 945.5 1645.3 948.8 1648.1 952.1 1641 955.5 1644.7 958.8 1650.3 962.1 1645.5 965.4 1646.9 968.7 1642.3 972 1671.3 975.3 1641.1 978.6 1674.4 981.9 1646.9 985.3 1668.4 988.6 1643.3 991.9 1672.9 995.2 1646.8 998.5 1677 1001.8 1678.2 1005.1 1646.6 1008.4 1648.9 1011.8 1645.8 1015.1 1652.1 1018.4 1647.1 1021.7 1648.3 1025 1649.4 1028.3 1645.8 1031.6 1645.8 1034.9 1666.9 1038.3 1647.7 1041.6 1675.9 1044.9 1649.8 1048.2 1644.3 1051.5 1645.6 1054.8 1650 1058.1 1677.2 1061.4 1667.3 1064.8 1672.5 1068.1 1655.2 1071.4 1667.2 1074.7 1659.9 1078 1674.3 1081.3 1642.8 1084.6 1647.6 1087.9 1657.5 1091.3 1646.8 1094.6 1677.7 1097.9 1646.4 1101.2 1642.9 1104.5 1662.6 1107.8 1646.5 1111.1 1641.9 1114.4 1643.8 1117.8 1660.4 1121.1 1668.2 1124.4 1641.7 1127.7 1647.2 1131 1664.5 1134.3 1646.4 1137.6 1641.7 1140.9 1645.4 1144.2 1649.2 1147.6 1661.7 1150.9 1651.4 1154.2 1665.8 1157.5 1651.5 1160.8 1646 1164.1 1679.5 1167.4 1647.9 1170.7 1646.4 1174.1 1647.8 1177.4 1649.8 1180.7 1645.3 1184 1647.9 1187.3 1649.4 1190.6 1668.7 1193.9 1651 1197.2 1652.8 1200.6 1668.7 1203.9 1651.3 1207.2 1677.2 1210.5 1641.2 1213.8 1661.7 1217.1 1643.4 1220.4 1671.6 1223.7 1659.2 1227.1 1643.8 1230.4 1645 1233.7 1647.3 1237 1641.4 1240.3 1665.4 1243.6 1648.6 1246.9 1644.6 1250.2 1641 1253.6 1649.3 1256.9 1649.9 1260.2 1666 1263.5 1650.1 1266.8 1649.7 1270.1 1652.7 1273.4 1648.2 1276.7 1648.9 1280 1647.9 1283.4 1657 1286.7 1678.8 1290 1646.4 1293.3 1646.7 1296.6 1651.7 1299.9 1644.9 1303.2 1646.4 1306.5 1654 1309.9 1643.1 1313.2 1649.8 1316.5 1645 1319.8 1646.6 1323.1 1653.6 1326.4 1667.3 1329.7 1663.3 1333 1647 1336.4 1674.7 1339.7 1649.2 1343 1645.8 1346.3 1675.1 1349.6 1665.7 1352.9 1649.4 1356.2 1648.6 1359.5 1674.7 1362.9 1670.4 1366.2 1649 1369.5 1651 1372.8 1645.6 1376.1 1648.5 1379.4 1643.3 1382.7 1666.4 1386 1646.8 1389.4 1647.1 1392.7 1661.6 1396 1661.6 1399.3 1649.8" fill="none" stroke="#dd7d4c" stroke-width="2.8" stroke-linejoin="round" marker-start="url(#mO)" marker-mid="url(#mO)" marker-end="url(#mO)" clip-path="url(#c12)"/>
<circle cx="865.4" cy="1530.5" r="5.3" fill="url(#gR)"/>
<circle cx="999.7" cy="1525" r="5.3" fill="url(#gR)"/>
<circle cx="1134" cy="1538" r="5.3" fill="url(#gR)"/>
<circle cx="1268.9" cy="1545.4" r="5.3" fill="url(#gR)"/>
<path d="M865.5 1733.4H995.5" stroke="#000060" stroke-width="10.8" stroke-linecap="round"/>
<path d="M865.5 1733.7H995.5" stroke="#0c0c8c" stroke-width="8.200000000000001" stroke-linecap="round"/>
<path d="M865.5 1731.8H995.5" stroke="#a8a8ff" stroke-width="3.6" stroke-dasharray="1.2 2.1"/>
<path d="M994.5 1740.4L999.7 1816" stroke="#0c0c8c" stroke-width="2.3" clip-path="url(#c13)"/>
<path d="M999.7 1804.2 1003 1799.6 1006.3 1803.1 1009.7 1812.2 1013 1807.7 1016.3 1816 1019.6 1814.6 1022.9 1808.2 1026.2 1811.7 1029.5 1816.6 1032.8 1813.5 1036.2 1806.7 1039.5 1816.7 1042.8 1830.7 1046.1 1810.8 1049.4 1814.5 1052.7 1813.5 1056 1817.8 1059.3 1806.9 1062.6 1810.7 1066 1819.5 1069.3 1828.3 1072.6 1817.2 1075.9 1814.7 1079.2 1807.2 1082.5 1815.6 1085.8 1810.8 1089.1 1818.8 1092.5 1809 1095.8 1814.5 1099.1 1818.7 1102.4 1809 1105.7 1820.6 1109 1814.2 1112.3 1815.7 1115.6 1813.8 1119 1804.9 1122.3 1830.5 1125.6 1810.9 1128.9 1827.2 1132.2 1810.4 1135.5 1811.2 1138.8 1805.6 1142.1 1812.5 1145.5 1817.6 1148.8 1813.4 1152.1 1818.1 1155.4 1804.8 1158.7 1814.1 1162 1816.7 1165.3 1832.2 1168.6 1807.4 1172 1807.1 1175.3 1805.9 1178.6 1807.6 1181.9 1809.2 1185.2 1810.7 1188.5 1814.6 1191.8 1807.4 1195.1 1803.1 1198.4 1810.9 1201.8 1814.4 1205.1 1805.7 1208.4 1813.5 1211.7 1813.5 1215 1815.2 1218.3 1828.2 1221.6 1820.4 1224.9 1812.4 1228.3 1816.8 1231.6 1815.8 1234.9 1809.6 1238.2 1829.3 1241.5 1809.6 1244.8 1807.9 1248.1 1814.5 1251.4 1823 1254.8 1815 1258.1 1837.7 1261.4 1820.4 1264.7 1808.1 1268 1822.8 1271.3 1810 1274.6 1807.2 1277.9 1830 1281.3 1809.5 1284.6 1821.6 1287.9 1821.8 1291.2 1812.5 1294.5 1828.4 1297.8 1801.9 1301.1 1808.6 1304.4 1807.8 1307.8 1814.2 1311.1 1832 1314.4 1808.3 1317.7 1812.9 1321 1812.5 1324.3 1830.1 1327.6 1810.6 1330.9 1812.2 1334.2 1810.1 1337.6 1815.4 1340.9 1822.9 1344.2 1807.3 1347.5 1824.7 1350.8 1810.5 1354.1 1848 1357.4 1805.3 1360.7 1813.6 1364.1 1807.2 1367.4 1802.2 1370.7 1805.3 1374 1819.3 1377.3 1809.9 1380.6 1828.9 1383.9 1817.9 1387.2 1823.4 1390.6 1812.7 1393.9 1821.1 1397.2 1814.2 1400.5 1803.6" fill="none" stroke="#0c0c8c" stroke-width="2.8" stroke-linejoin="round" marker-start="url(#mN)" marker-mid="url(#mN)" marker-end="url(#mN)" clip-path="url(#c13)"/>
<text x="915.8" y="1782.4" font-size="34.5" fill="#0c0c80">1</text>
<text x="1056.3" y="1791.7" font-size="34.5" fill="#0c0c80">0</text>
<text x="1192.5" y="1791.7" font-size="34.5" fill="#0c0c80">0</text>
<text x="1330.6" y="1791.7" font-size="34.5" fill="#0c0c80">0</text>
<text x="872.9" y="1553" font-size="34.5" fill="#a80c0c">1</text>
<text x="1011.5" y="1553" font-size="34.5" fill="#a80c0c">0</text>
<text x="1147.6" y="1553" font-size="34.5" fill="#a80c0c">0</text>
<text x="1285.6" y="1553" font-size="34.5" fill="#a80c0c">0</text>
<text x="852" y="1885" font-size="35.5" text-anchor="middle">0</text>
<text x="1032.7" y="1885" font-size="35.5" text-anchor="middle">6</text>
<text x="1213.3" y="1885" font-size="35.5" text-anchor="middle">12</text>
<text x="1394" y="1885" font-size="35.5" text-anchor="middle">18</text>
<text x="1047.5" y="1930" font-size="40.5" textLength="147" lengthAdjust="spacingAndGlyphs">Time (s)</text>
<text x="735.7" y="1305.5" font-size="60" font-family="'Liberation Serif', 'Times New Roman', Times, serif">(f)</text>
<text x="771.4" y="1477.2" font-size="41" transform="rotate(-90 771.4 1477.2)" textLength="148.9" lengthAdjust="spacingAndGlyphs"><tspan font-style="italic">B</tspan> (V) <tspan font-style="italic">A</tspan> (V)</text>
<text x="776" y="1726.6" font-size="41" transform="rotate(-90 776 1726.6)" textLength="157.2" lengthAdjust="spacingAndGlyphs">Power (W)</text>
<path d="M1039 1482h71" stroke="#bd0a0a" stroke-width="2.6"/>
<circle cx="1074.5" cy="1482" r="5.3" fill="url(#gR)"/>
<text x="1118.5" y="1493" font-size="30" textLength="219" lengthAdjust="spacingAndGlyphs"><tspan font-style="italic">P</tspan><tspan font-size="21" dy="7">CG</tspan><tspan dy="-7"> = |<tspan font-style="italic">V</tspan><tspan font-size="21" dy="7">CG</tspan><tspan dy="-7">*<tspan font-style="italic">I</tspan><tspan font-size="21" dy="7">CG</tspan><tspan dy="-7">|</tspan></tspan></tspan></text>
<path d="M1039 1608.9h71" stroke="#dd7d4c" stroke-width="2.6"/>
<circle cx="1074.5" cy="1608.9" r="5.3" fill="url(#gO)"/>
<text x="1118.5" y="1619.9" font-size="30" textLength="211" lengthAdjust="spacingAndGlyphs"><tspan font-style="italic">P</tspan><tspan font-size="21" dy="7">TG</tspan><tspan dy="-7"> = |<tspan font-style="italic">V</tspan><tspan font-size="21" dy="7">TG</tspan><tspan dy="-7">*<tspan font-style="italic">I</tspan><tspan font-size="21" dy="7">TG</tspan><tspan dy="-7">|</tspan></tspan></tspan></text>
<path d="M1039 1735.7h71" stroke="#0c0c8c" stroke-width="2.6"/>
<circle cx="1074.5" cy="1735.7" r="5.3" fill="url(#gN)"/>
<text x="1118.5" y="1746.7" font-size="30" textLength="254" lengthAdjust="spacingAndGlyphs"><tspan font-style="italic">P</tspan><tspan font-size="21" dy="7">Channel</tspan><tspan dy="-7"> = |<tspan font-style="italic">V</tspan><tspan font-size="21" dy="7">DD</tspan><tspan dy="-7">*<tspan font-style="italic">I</tspan><tspan font-size="21" dy="7">D</tspan><tspan dy="-7">|</tspan></tspan></tspan></text>
<path d="M1594.2 1335.5H2137V1842.5H1594.2ZM1594.2 1462H2137M1594.2 1590H2137M1594.2 1717.5H2137" fill="none" stroke="#000" stroke-width="3" stroke-linecap="square"/>
<path d="M1684.7 1462v-5.5M1775.1 1462v-9.5M1865.6 1462v-5.5M1956.1 1462v-9.5M2046.5 1462v-5.5M1684.7 1590v-5.5M1775.1 1590v-9.5M1865.6 1590v-5.5M1956.1 1590v-9.5M2046.5 1590v-5.5M1684.7 1717.5v-5.5M1775.1 1717.5v-9.5M1865.6 1717.5v-5.5M1956.1 1717.5v-9.5M2046.5 1717.5v-5.5M1684.7 1842.5v-5.5M1775.1 1842.5v-9.5M1865.6 1842.5v-5.5M1956.1 1842.5v-9.5M2046.5 1842.5v-5.5" stroke="#000" stroke-width="2.6"/>
<path d="M1732.9 1375.4V1841M1867.1 1375.4V1841M2002.2 1375.4V1841" stroke="#62985f" stroke-width="2" stroke-dasharray="11.5 5 3 5.5"/>
<path d="M1594.2 1351.8h9M1594.2 1412.4h9M1594.2 1538.2h9M1594.2 1633.7h9M1594.2 1673.5h9M1594.2 1775.4h9M1594.2 1808.9h9" stroke="#000" stroke-width="2.6"/>
<path d="M1603.2 1369.4H2131.5" stroke="#4f9050" stroke-width="10.0" stroke-linecap="round"/>
<path d="M1603.2 1369.7H2131.5" stroke="#72b86c" stroke-width="7.4" stroke-linecap="round"/>
<path d="M1603.2 1367.8H2131.5" stroke="#d2f7cb" stroke-width="3.6" stroke-dasharray="1.2 2.1"/>
<path d="M1603.2 1430.5H2131.5" stroke="#b07cb8" stroke-width="10.0" stroke-linecap="round"/>
<path d="M1603.2 1430.8H2131.5" stroke="#d79fdd" stroke-width="7.4" stroke-linecap="round"/>
<path d="M1603.2 1428.9H2131.5" stroke="#fbe6fc" stroke-width="3.6" stroke-dasharray="1.2 2.1"/>
<circle cx="1599.6" cy="1387" r="4.8" fill="url(#gG)"/>
<circle cx="1599.6" cy="1448.6" r="4.8" fill="url(#gP)"/>
<circle cx="1734.1" cy="1387" r="4.8" fill="url(#gG)"/>
<circle cx="1734.1" cy="1412.4" r="4.8" fill="url(#gP)"/>
<circle cx="1868.6" cy="1351.8" r="4.8" fill="url(#gG)"/>
<circle cx="1868.6" cy="1448.6" r="4.8" fill="url(#gP)"/>
<circle cx="2003.7" cy="1351.8" r="4.8" fill="url(#gG)"/>
<circle cx="2003.7" cy="1412.4" r="4.8" fill="url(#gP)"/>
<text x="1566.5" y="1361.5" font-size="36" text-anchor="end">8</text>
<text x="1566.5" y="1394.9" font-size="36" text-anchor="end">-8</text>
<text x="1566.5" y="1431.7" font-size="36" text-anchor="end">8</text>
<text x="1566.5" y="1468.2" font-size="36" text-anchor="end">-8</text>
<text x="1610.2" y="1413" font-size="34.5"><tspan fill="#6aaa66">0</tspan><tspan fill="#c48ad0">0</tspan></text>
<text x="1750.1" y="1413" font-size="34.5"><tspan fill="#6aaa66">0</tspan><tspan fill="#c48ad0">1</tspan></text>
<text x="1876.6" y="1413" font-size="34.5"><tspan fill="#6aaa66">1</tspan><tspan fill="#c48ad0">0</tspan></text>
<text x="2014.6" y="1413" font-size="34.5"><tspan fill="#6aaa66">1</tspan><tspan fill="#c48ad0">1</tspan></text>
<text x="1585" y="1551.1" font-size="36" text-anchor="end">10p</text>
<text x="1585" y="1646.6" font-size="36" text-anchor="end">10p</text>
<text x="1585" y="1788.3" font-size="36" text-anchor="end">100f</text>
<text x="1585" y="1854.9" font-size="36" text-anchor="end">1f</text>
<path d="M1600.2 1637 1603.5 1657.2 1606.9 1660.8 1610.2 1656.7 1613.5 1658.9 1616.8 1652.8 1620.1 1698.7 1623.5 1661 1626.8 1667.7 1630.1 1686 1633.4 1679.2 1636.7 1657.3 1640 1645 1643.4 1684.1 1646.7 1683.3 1650 1687 1653.3 1663 1656.6 1654.1 1659.9 1702.4 1663.3 1665.4 1666.6 1654.3 1669.9 1653.9 1673.2 1666 1676.5 1663 1679.8 1656.4 1683.2 1689.7 1686.5 1667.9 1689.8 1657.7 1693.1 1693.5 1696.4 1690.8 1699.7 1657.5 1703.1 1671.2 1706.4 1707.7 1709.7 1662.5 1713 1687.2 1716.3 1652.1 1719.6 1655.1 1723 1660.3 1726.3 1651.5 1729.6 1653.6 1732.9 1656 1736.2 1658.4 1739.5 1689.9 1742.9 1696.6 1746.2 1697.3 1749.5 1658.3 1752.8 1655.2 1756.1 1705.3 1759.5 1655.1 1762.8 1688.8 1766.1 1686.3 1769.4 1721.5 1772.7 1656.6 1776 1653.4 1779.4 1655.6 1782.7 1676.7 1786 1660.8 1789.3 1656 1792.6 1657.3 1795.9 1665 1799.3 1668.1 1802.6 1659.2 1805.9 1705 1809.2 1658.7 1812.5 1657.6 1815.8 1661.4 1819.2 1660.5 1822.5 1678.7 1825.8 1654.3 1829.1 1721.5 1832.4 1685.5 1835.7 1669 1839.1 1710.5 1842.4 1662.3 1845.7 1690 1849 1648.8 1852.3 1669.4 1855.6 1658 1859 1678.3 1862.3 1657.7 1865.6 1703.5 1868.9 1691.7 1872.2 1651.3 1875.6 1651 1878.9 1659.7 1882.2 1663.9 1885.5 1656.2 1888.8 1664.5 1892.1 1659.6 1895.5 1684.9 1898.8 1679.3 1902.1 1659.6 1905.4 1703.4 1908.7 1663.2 1912 1654 1915.4 1656.6 1918.7 1667.5 1922 1645 1925.3 1664.4 1928.6 1677.8 1931.9 1721.5 1935.3 1699.9 1938.6 1677.8 1941.9 1697.1 1945.2 1659.2 1948.5 1695.6 1951.8 1689.3 1955.2 1658.8 1958.5 1680.8 1961.8 1721.5 1965.1 1721.5 1968.4 1654.7 1971.7 1651.9 1975.1 1667.9 1978.4 1690.6 1981.7 1650.6 1985 1659.9 1988.3 1676.6 1991.7 1656.2 1995 1706.7 1998.3 1659.5 2001.6 1657.8 2004.9 1656 2008.2 1663.7 2011.6 1721.5 2014.9 1665.7 2018.2 1659.9 2021.5 1669.9 2024.8 1661.1 2028.1 1693.7 2031.5 1685.3 2034.8 1655.4 2038.1 1658.9 2041.4 1721.5 2044.7 1700.4 2048 1660.3 2051.4 1669.5 2054.7 1682.7 2058 1662.7 2061.3 1666 2064.6 1659.5 2067.9 1657.1 2071.3 1665.3 2074.6 1668.6 2077.9 1682.7 2081.2 1666.4 2084.5 1654.6 2087.8 1693.2 2091.2 1665.6 2094.5 1665.3 2097.8 1708.7 2101.1 1657.8 2104.4 1661.3 2107.7 1655.2 2111.1 1656.8 2114.4 1655.2 2117.7 1679.7 2121 1692.8 2124.3 1705.9 2127.7 1664.8 2131 1670.1 2134.3 1662.1" fill="none" stroke="#dd7d4c" stroke-width="2.8" stroke-linejoin="round" marker-start="url(#mO)" marker-mid="url(#mO)" marker-end="url(#mO)" clip-path="url(#c14)"/>
<circle cx="1599.6" cy="1472.9" r="5.3" fill="url(#gR)"/>
<circle cx="1734.1" cy="1509.3" r="5.3" fill="url(#gR)"/>
<circle cx="1868.6" cy="1501.8" r="5.3" fill="url(#gR)"/>
<circle cx="2003.7" cy="1503.3" r="5.3" fill="url(#gR)"/>
<path d="M1599.7 1741H1729.9" stroke="#000060" stroke-width="10.8" stroke-linecap="round"/>
<path d="M1599.7 1741.3H1729.9" stroke="#0c0c8c" stroke-width="8.200000000000001" stroke-linecap="round"/>
<path d="M1599.7 1739.4H1729.9" stroke="#a8a8ff" stroke-width="3.6" stroke-dasharray="1.2 2.1"/>
<path d="M1728.9 1748L1734.1 1812" stroke="#0c0c8c" stroke-width="2.3" clip-path="url(#c15)"/>
<path d="M1734.1 1808.5 1737.4 1806.6 1740.8 1846.5 1744.1 1797.3 1747.4 1817.9 1750.7 1810.3 1754 1807.4 1757.3 1805 1760.7 1810.8 1764 1846.5 1767.3 1811.9 1770.6 1814.2 1773.9 1816.3 1777.2 1821.6 1780.6 1807.3 1783.9 1835.8 1787.2 1802.2 1790.5 1826.4 1793.8 1826.6 1797.1 1804 1800.5 1813.1 1803.8 1830.3 1807.1 1819.6 1810.4 1817.3 1813.7 1819.8 1817 1824 1820.4 1811.3 1823.7 1834.9 1827 1809.6 1830.3 1807.1 1833.6 1823.6 1837 1802.5 1840.3 1823.5 1843.6 1806.3 1846.9 1834.3 1850.2 1846.5 1853.5 1820.3 1856.9 1811.1 1860.2 1803.9 1863.5 1835.9 1866.8 1807 1870.1 1820.2 1873.4 1834.7 1876.8 1825.7 1880.1 1813.6 1883.4 1832.6 1886.7 1846.5 1890 1831.1 1893.3 1828.1 1896.7 1846.5 1900 1814.4 1903.3 1834.4 1906.6 1798.7 1909.9 1809.7 1913.2 1846.5 1916.6 1811.5 1919.9 1814.3 1923.2 1815.6 1926.5 1813.2 1929.8 1829.7 1933.1 1812 1936.5 1828.6 1939.8 1827 1943.1 1799.1 1946.4 1805.9 1949.7 1835.1 1953.1 1835.9 1956.4 1846.5 1959.7 1846.5 1963 1846.5 1966.3 1846.5 1969.6 1837.4 1973 1801 1976.3 1805 1979.6 1846.5 1982.9 1809.9 1986.2 1837.5 1989.5 1811.5 1992.9 1803.7 1996.2 1846.5 1999.5 1799.9 2002.8 1806.9 2006.1 1833.1 2009.4 1806 2012.8 1815.7 2016.1 1800.9 2019.4 1842.5 2022.7 1844 2026 1840.3 2029.3 1825.5 2032.7 1846.5 2036 1807.4 2039.3 1833.4 2042.6 1804.7 2045.9 1800.4 2049.2 1814.1 2052.6 1827.3 2055.9 1813.4 2059.2 1818.5 2062.5 1808.5 2065.8 1821.9 2069.1 1824.2 2072.5 1817.7 2075.8 1846.5 2079.1 1827.6 2082.4 1819.1 2085.7 1831.7 2089.1 1815.9 2092.4 1808.8 2095.7 1809.3 2099 1846.5 2102.3 1818.1 2105.6 1812.5 2109 1810.8 2112.3 1804.1 2115.6 1832 2118.9 1813.8 2122.2 1836.1 2125.5 1819.5 2128.9 1811.4 2132.2 1846.5 2135.5 1831.4" fill="none" stroke="#0c0c8c" stroke-width="2.8" stroke-linejoin="round" marker-start="url(#mN)" marker-mid="url(#mN)" marker-end="url(#mN)" clip-path="url(#c15)"/>
<text x="1649" y="1782.4" font-size="34.5" fill="#0c0c80">1</text>
<text x="1789.4" y="1791.7" font-size="34.5" fill="#0c0c80">0</text>
<text x="1925.6" y="1791.7" font-size="34.5" fill="#0c0c80">0</text>
<text x="2063.6" y="1791.7" font-size="34.5" fill="#0c0c80">0</text>
<text x="1606.1" y="1551" font-size="34.5" fill="#a80c0c">1</text>
<text x="1746.5" y="1551" font-size="34.5" fill="#a80c0c">0</text>
<text x="1882.7" y="1551" font-size="34.5" fill="#a80c0c">0</text>
<text x="2020.8" y="1551" font-size="34.5" fill="#a80c0c">0</text>
<text x="1586.2" y="1885" font-size="35.5" text-anchor="middle">0</text>
<text x="1767.1" y="1885" font-size="35.5" text-anchor="middle">6</text>
<text x="1948.1" y="1885" font-size="35.5" text-anchor="middle">12</text>
<text x="2129" y="1885" font-size="35.5" text-anchor="middle">18</text>
<text x="1782.5" y="1930" font-size="40.5" textLength="147" lengthAdjust="spacingAndGlyphs">Time (s)</text>
<text x="1496.8" y="1305.5" font-size="60" font-family="'Liberation Serif', 'Times New Roman', Times, serif">(i)</text>
<text x="1505.2" y="1477.2" font-size="41" transform="rotate(-90 1505.2 1477.2)" textLength="147.7" lengthAdjust="spacingAndGlyphs"><tspan font-style="italic">B</tspan> (V) <tspan font-style="italic">A</tspan> (V)</text>
<text x="1508.7" y="1726.6" font-size="41" transform="rotate(-90 1508.7 1726.6)" textLength="156" lengthAdjust="spacingAndGlyphs">Power (W)</text>
<path d="M1819.3 1481.3h62.1" stroke="#bd0a0a" stroke-width="2.6"/>
<circle cx="1850.4" cy="1481.3" r="5.3" fill="url(#gR)"/>
<text x="1888.9" y="1490.9" font-size="26.2" textLength="191.6" lengthAdjust="spacingAndGlyphs"><tspan font-style="italic">P</tspan><tspan font-size="21" dy="7">CG</tspan><tspan dy="-7"> = |<tspan font-style="italic">V</tspan><tspan font-size="21" dy="7">CG</tspan><tspan dy="-7">*<tspan font-style="italic">I</tspan><tspan font-size="21" dy="7">CG</tspan><tspan dy="-7">|</tspan></tspan></tspan></text>
<path d="M1819.3 1607.8h62.1" stroke="#dd7d4c" stroke-width="2.6"/>
<circle cx="1850.4" cy="1607.8" r="5.3" fill="url(#gO)"/>
<text x="1888.9" y="1617.4" font-size="26.2" textLength="184.6" lengthAdjust="spacingAndGlyphs"><tspan font-style="italic">P</tspan><tspan font-size="21" dy="7">TG</tspan><tspan dy="-7"> = |<tspan font-style="italic">V</tspan><tspan font-size="21" dy="7">TG</tspan><tspan dy="-7">*<tspan font-style="italic">I</tspan><tspan font-size="21" dy="7">TG</tspan><tspan dy="-7">|</tspan></tspan></tspan></text>
<path d="M1819.3 1735.7h62.1" stroke="#0c0c8c" stroke-width="2.6"/>
<circle cx="1850.4" cy="1735.7" r="5.3" fill="url(#gN)"/>
<text x="1888.9" y="1745.3" font-size="26.2" textLength="222.2" lengthAdjust="spacingAndGlyphs"><tspan font-style="italic">P</tspan><tspan font-size="21" dy="7">Channel</tspan><tspan dy="-7"> = |<tspan font-style="italic">V</tspan><tspan font-size="21" dy="7">DD</tspan><tspan dy="-7">*<tspan font-style="italic">I</tspan><tspan font-size="21" dy="7">D</tspan><tspan dy="-7">|</tspan></tspan></tspan></text>
</svg></body></html>
